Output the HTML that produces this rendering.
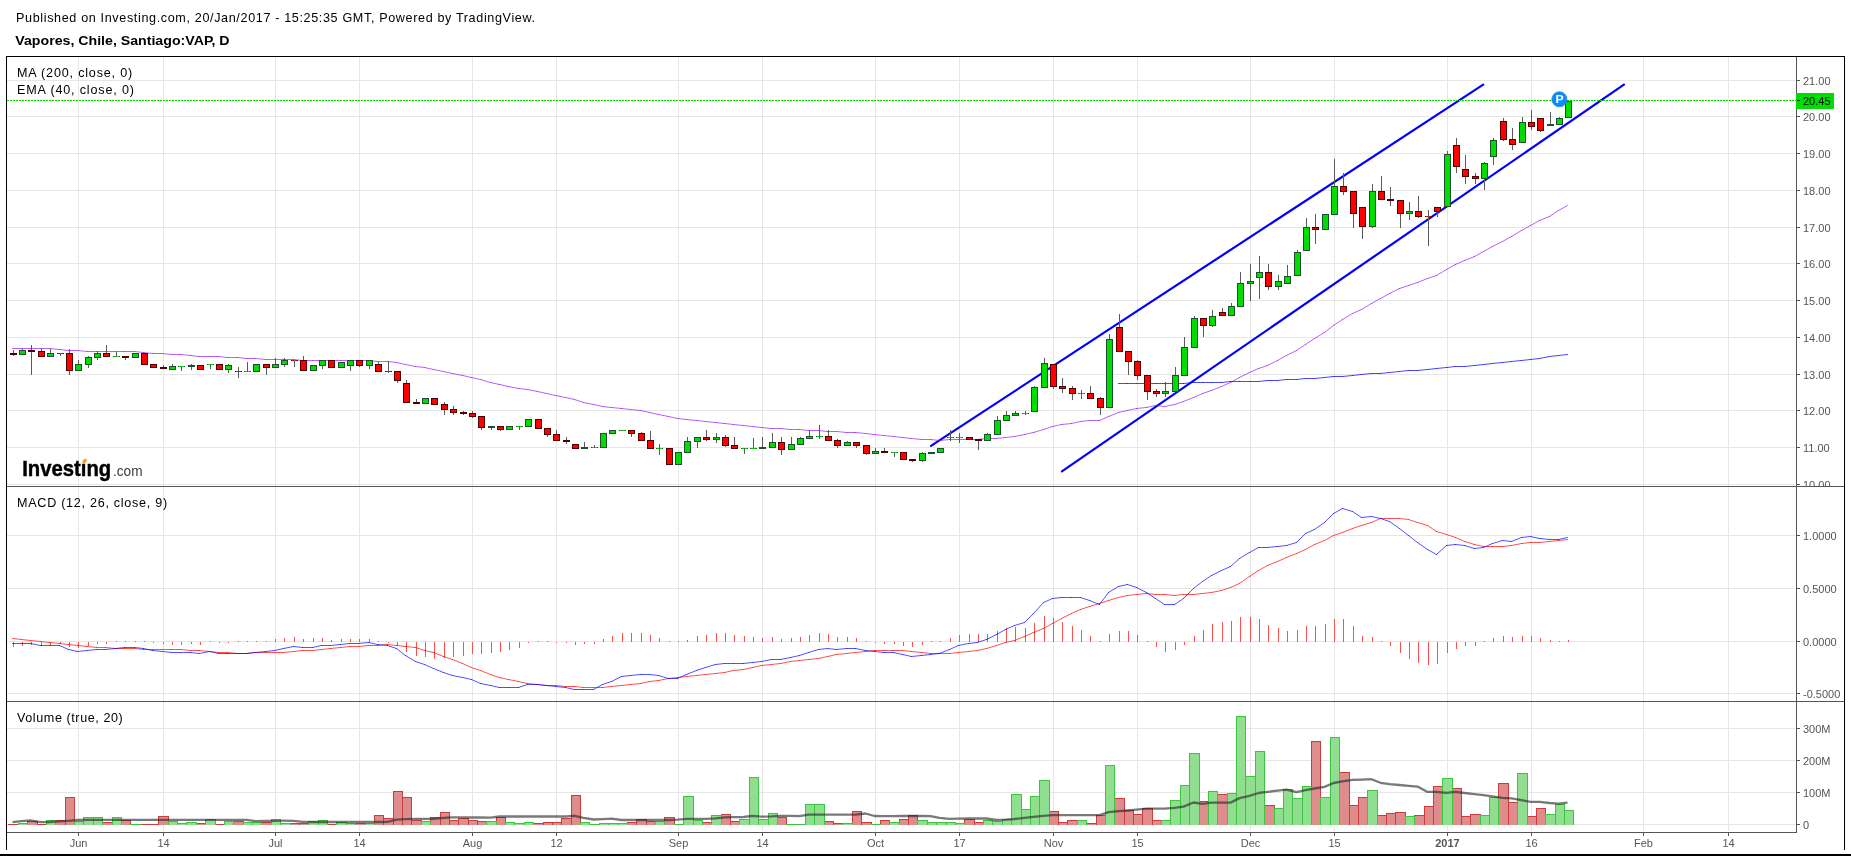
<!DOCTYPE html>
<html><head><meta charset="utf-8"><title>Vapores, Chile, Santiago:VAP, D</title>
<style>html,body{margin:0;padding:0;background:#fff;width:1851px;height:856px;overflow:hidden}body{position:relative}</style>
</head><body>
<svg width="1851" height="856" viewBox="0 0 1851 856" style="position:absolute;left:0;top:0;will-change:transform">
<g shape-rendering="crispEdges" fill="#e6e6e6">
<rect x="78" y="57" width="1" height="774"/>
<rect x="163" y="57" width="1" height="774"/>
<rect x="275" y="57" width="1" height="774"/>
<rect x="359" y="57" width="1" height="774"/>
<rect x="472" y="57" width="1" height="774"/>
<rect x="556" y="57" width="1" height="774"/>
<rect x="678" y="57" width="1" height="774"/>
<rect x="762" y="57" width="1" height="774"/>
<rect x="875" y="57" width="1" height="774"/>
<rect x="959" y="57" width="1" height="774"/>
<rect x="1053" y="57" width="1" height="774"/>
<rect x="1137" y="57" width="1" height="774"/>
<rect x="1250" y="57" width="1" height="774"/>
<rect x="1334" y="57" width="1" height="774"/>
<rect x="1447" y="57" width="1" height="774"/>
<rect x="1531" y="57" width="1" height="774"/>
<rect x="1643" y="57" width="1" height="774"/>
<rect x="1728" y="57" width="1" height="774"/>
<rect x="7" y="484" width="1788" height="1"/>
<rect x="7" y="447" width="1788" height="1"/>
<rect x="7" y="410" width="1788" height="1"/>
<rect x="7" y="374" width="1788" height="1"/>
<rect x="7" y="337" width="1788" height="1"/>
<rect x="7" y="300" width="1788" height="1"/>
<rect x="7" y="263" width="1788" height="1"/>
<rect x="7" y="227" width="1788" height="1"/>
<rect x="7" y="190" width="1788" height="1"/>
<rect x="7" y="153" width="1788" height="1"/>
<rect x="7" y="116" width="1788" height="1"/>
<rect x="7" y="80" width="1788" height="1"/>
<rect x="7" y="535" width="1788" height="1"/>
<rect x="7" y="588" width="1788" height="1"/>
<rect x="7" y="641" width="1788" height="1"/>
<rect x="7" y="693" width="1788" height="1"/>
<rect x="7" y="728" width="1788" height="1"/>
<rect x="7" y="760" width="1788" height="1"/>
<rect x="7" y="792" width="1788" height="1"/>
<rect x="7" y="824" width="1788" height="1"/>
</g>
<defs><clipPath id="cm"><rect x="7" y="57" width="1789" height="429"/></clipPath><clipPath id="cd"><rect x="7" y="487" width="1789" height="214"/></clipPath><clipPath id="cv"><rect x="7" y="702" width="1789" height="130"/></clipPath></defs>
<g clip-path="url(#cv)" shape-rendering="crispEdges">
<rect x="8" y="824" width="11" height="1" fill="#cc3c3c"/>
<rect x="9" y="825" width="9" height="0" fill="#de8c8c"/>
<rect x="27" y="821" width="11" height="4" fill="#cc3c3c"/>
<rect x="28" y="822" width="9" height="3" fill="#de8c8c"/>
<rect x="37" y="824" width="10" height="1" fill="#cc3c3c"/>
<rect x="38" y="825" width="8" height="0" fill="#de8c8c"/>
<rect x="55" y="820" width="11" height="5" fill="#cc3c3c"/>
<rect x="56" y="821" width="9" height="4" fill="#de8c8c"/>
<rect x="65" y="797" width="10" height="28" fill="#cc3c3c"/>
<rect x="66" y="798" width="8" height="27" fill="#de8c8c"/>
<rect x="102" y="822" width="11" height="3" fill="#cc3c3c"/>
<rect x="103" y="823" width="9" height="2" fill="#de8c8c"/>
<rect x="121" y="820" width="10" height="5" fill="#cc3c3c"/>
<rect x="122" y="821" width="8" height="4" fill="#de8c8c"/>
<rect x="140" y="824" width="10" height="1" fill="#cc3c3c"/>
<rect x="141" y="825" width="8" height="0" fill="#de8c8c"/>
<rect x="149" y="824" width="10" height="1" fill="#cc3c3c"/>
<rect x="150" y="825" width="8" height="0" fill="#de8c8c"/>
<rect x="158" y="816" width="11" height="9" fill="#cc3c3c"/>
<rect x="159" y="817" width="9" height="8" fill="#de8c8c"/>
<rect x="196" y="823" width="10" height="2" fill="#cc3c3c"/>
<rect x="197" y="824" width="8" height="1" fill="#de8c8c"/>
<rect x="215" y="824" width="10" height="1" fill="#cc3c3c"/>
<rect x="216" y="825" width="8" height="0" fill="#de8c8c"/>
<rect x="233" y="821" width="11" height="4" fill="#cc3c3c"/>
<rect x="234" y="822" width="9" height="3" fill="#de8c8c"/>
<rect x="261" y="822" width="11" height="3" fill="#cc3c3c"/>
<rect x="262" y="823" width="9" height="2" fill="#de8c8c"/>
<rect x="290" y="823" width="10" height="2" fill="#cc3c3c"/>
<rect x="291" y="824" width="8" height="1" fill="#de8c8c"/>
<rect x="299" y="823" width="10" height="2" fill="#cc3c3c"/>
<rect x="300" y="824" width="8" height="1" fill="#de8c8c"/>
<rect x="327" y="824" width="10" height="1" fill="#cc3c3c"/>
<rect x="328" y="825" width="8" height="0" fill="#de8c8c"/>
<rect x="355" y="823" width="11" height="2" fill="#cc3c3c"/>
<rect x="356" y="824" width="9" height="1" fill="#de8c8c"/>
<rect x="374" y="815" width="10" height="10" fill="#cc3c3c"/>
<rect x="375" y="816" width="8" height="9" fill="#de8c8c"/>
<rect x="383" y="818" width="11" height="7" fill="#cc3c3c"/>
<rect x="384" y="819" width="9" height="6" fill="#de8c8c"/>
<rect x="393" y="791" width="10" height="34" fill="#cc3c3c"/>
<rect x="394" y="792" width="8" height="33" fill="#de8c8c"/>
<rect x="402" y="797" width="10" height="28" fill="#cc3c3c"/>
<rect x="403" y="798" width="8" height="27" fill="#de8c8c"/>
<rect x="411" y="820" width="11" height="5" fill="#cc3c3c"/>
<rect x="412" y="821" width="9" height="4" fill="#de8c8c"/>
<rect x="430" y="817" width="11" height="8" fill="#cc3c3c"/>
<rect x="431" y="818" width="9" height="7" fill="#de8c8c"/>
<rect x="440" y="812" width="10" height="13" fill="#cc3c3c"/>
<rect x="441" y="813" width="8" height="12" fill="#de8c8c"/>
<rect x="449" y="820" width="10" height="5" fill="#cc3c3c"/>
<rect x="450" y="821" width="8" height="4" fill="#de8c8c"/>
<rect x="458" y="818" width="11" height="7" fill="#cc3c3c"/>
<rect x="459" y="819" width="9" height="6" fill="#de8c8c"/>
<rect x="468" y="820" width="10" height="5" fill="#cc3c3c"/>
<rect x="469" y="821" width="8" height="4" fill="#de8c8c"/>
<rect x="477" y="821" width="10" height="4" fill="#cc3c3c"/>
<rect x="478" y="822" width="8" height="3" fill="#de8c8c"/>
<rect x="496" y="817" width="10" height="8" fill="#cc3c3c"/>
<rect x="497" y="818" width="8" height="7" fill="#de8c8c"/>
<rect x="533" y="823" width="11" height="2" fill="#cc3c3c"/>
<rect x="534" y="824" width="9" height="1" fill="#de8c8c"/>
<rect x="543" y="822" width="10" height="3" fill="#cc3c3c"/>
<rect x="544" y="823" width="8" height="2" fill="#de8c8c"/>
<rect x="552" y="822" width="10" height="3" fill="#cc3c3c"/>
<rect x="553" y="823" width="8" height="2" fill="#de8c8c"/>
<rect x="561" y="818" width="11" height="7" fill="#cc3c3c"/>
<rect x="562" y="819" width="9" height="6" fill="#de8c8c"/>
<rect x="571" y="795" width="10" height="30" fill="#cc3c3c"/>
<rect x="572" y="796" width="8" height="29" fill="#de8c8c"/>
<rect x="627" y="822" width="10" height="3" fill="#cc3c3c"/>
<rect x="628" y="823" width="8" height="2" fill="#de8c8c"/>
<rect x="636" y="819" width="11" height="6" fill="#cc3c3c"/>
<rect x="637" y="820" width="9" height="5" fill="#de8c8c"/>
<rect x="646" y="821" width="10" height="4" fill="#cc3c3c"/>
<rect x="647" y="822" width="8" height="3" fill="#de8c8c"/>
<rect x="664" y="817" width="11" height="8" fill="#cc3c3c"/>
<rect x="665" y="818" width="9" height="7" fill="#de8c8c"/>
<rect x="702" y="822" width="10" height="3" fill="#cc3c3c"/>
<rect x="703" y="823" width="8" height="2" fill="#de8c8c"/>
<rect x="721" y="814" width="10" height="11" fill="#cc3c3c"/>
<rect x="722" y="815" width="8" height="10" fill="#de8c8c"/>
<rect x="730" y="821" width="10" height="4" fill="#cc3c3c"/>
<rect x="731" y="822" width="8" height="3" fill="#de8c8c"/>
<rect x="777" y="817" width="10" height="8" fill="#cc3c3c"/>
<rect x="778" y="818" width="8" height="7" fill="#de8c8c"/>
<rect x="824" y="821" width="10" height="4" fill="#cc3c3c"/>
<rect x="825" y="822" width="8" height="3" fill="#de8c8c"/>
<rect x="833" y="823" width="10" height="2" fill="#cc3c3c"/>
<rect x="834" y="824" width="8" height="1" fill="#de8c8c"/>
<rect x="852" y="811" width="10" height="14" fill="#cc3c3c"/>
<rect x="853" y="812" width="8" height="13" fill="#de8c8c"/>
<rect x="861" y="822" width="11" height="3" fill="#cc3c3c"/>
<rect x="862" y="823" width="9" height="2" fill="#de8c8c"/>
<rect x="880" y="820" width="10" height="5" fill="#cc3c3c"/>
<rect x="881" y="821" width="8" height="4" fill="#de8c8c"/>
<rect x="899" y="819" width="10" height="6" fill="#cc3c3c"/>
<rect x="900" y="820" width="8" height="5" fill="#de8c8c"/>
<rect x="908" y="815" width="10" height="10" fill="#cc3c3c"/>
<rect x="909" y="816" width="8" height="9" fill="#de8c8c"/>
<rect x="964" y="819" width="11" height="6" fill="#cc3c3c"/>
<rect x="965" y="820" width="9" height="5" fill="#de8c8c"/>
<rect x="974" y="822" width="10" height="3" fill="#cc3c3c"/>
<rect x="975" y="823" width="8" height="2" fill="#de8c8c"/>
<rect x="1049" y="811" width="10" height="14" fill="#cc3c3c"/>
<rect x="1050" y="812" width="8" height="13" fill="#de8c8c"/>
<rect x="1058" y="822" width="10" height="3" fill="#cc3c3c"/>
<rect x="1059" y="823" width="8" height="2" fill="#de8c8c"/>
<rect x="1067" y="820" width="11" height="5" fill="#cc3c3c"/>
<rect x="1068" y="821" width="9" height="4" fill="#de8c8c"/>
<rect x="1086" y="823" width="11" height="2" fill="#cc3c3c"/>
<rect x="1087" y="824" width="9" height="1" fill="#de8c8c"/>
<rect x="1096" y="815" width="10" height="10" fill="#cc3c3c"/>
<rect x="1097" y="816" width="8" height="9" fill="#de8c8c"/>
<rect x="1114" y="798" width="11" height="27" fill="#cc3c3c"/>
<rect x="1115" y="799" width="9" height="26" fill="#de8c8c"/>
<rect x="1124" y="810" width="10" height="15" fill="#cc3c3c"/>
<rect x="1125" y="811" width="8" height="14" fill="#de8c8c"/>
<rect x="1133" y="814" width="10" height="11" fill="#cc3c3c"/>
<rect x="1134" y="815" width="8" height="10" fill="#de8c8c"/>
<rect x="1142" y="808" width="11" height="17" fill="#cc3c3c"/>
<rect x="1143" y="809" width="9" height="16" fill="#de8c8c"/>
<rect x="1152" y="820" width="10" height="5" fill="#cc3c3c"/>
<rect x="1153" y="821" width="8" height="4" fill="#de8c8c"/>
<rect x="1199" y="801" width="10" height="24" fill="#cc3c3c"/>
<rect x="1200" y="802" width="8" height="23" fill="#de8c8c"/>
<rect x="1217" y="794" width="11" height="31" fill="#cc3c3c"/>
<rect x="1218" y="795" width="9" height="30" fill="#de8c8c"/>
<rect x="1264" y="805" width="11" height="20" fill="#cc3c3c"/>
<rect x="1265" y="806" width="9" height="19" fill="#de8c8c"/>
<rect x="1311" y="741" width="10" height="84" fill="#cc3c3c"/>
<rect x="1312" y="742" width="8" height="83" fill="#de8c8c"/>
<rect x="1339" y="772" width="11" height="53" fill="#cc3c3c"/>
<rect x="1340" y="773" width="9" height="52" fill="#de8c8c"/>
<rect x="1349" y="805" width="10" height="20" fill="#cc3c3c"/>
<rect x="1350" y="806" width="8" height="19" fill="#de8c8c"/>
<rect x="1358" y="797" width="10" height="28" fill="#cc3c3c"/>
<rect x="1359" y="798" width="8" height="27" fill="#de8c8c"/>
<rect x="1377" y="815" width="10" height="10" fill="#cc3c3c"/>
<rect x="1378" y="816" width="8" height="9" fill="#de8c8c"/>
<rect x="1386" y="813" width="10" height="12" fill="#cc3c3c"/>
<rect x="1387" y="814" width="8" height="11" fill="#de8c8c"/>
<rect x="1395" y="812" width="11" height="13" fill="#cc3c3c"/>
<rect x="1396" y="813" width="9" height="12" fill="#de8c8c"/>
<rect x="1414" y="815" width="11" height="10" fill="#cc3c3c"/>
<rect x="1415" y="816" width="9" height="9" fill="#de8c8c"/>
<rect x="1424" y="806" width="10" height="19" fill="#cc3c3c"/>
<rect x="1425" y="807" width="8" height="18" fill="#de8c8c"/>
<rect x="1433" y="786" width="10" height="39" fill="#cc3c3c"/>
<rect x="1434" y="787" width="8" height="38" fill="#de8c8c"/>
<rect x="1452" y="788" width="10" height="37" fill="#cc3c3c"/>
<rect x="1453" y="789" width="8" height="36" fill="#de8c8c"/>
<rect x="1461" y="816" width="10" height="9" fill="#cc3c3c"/>
<rect x="1462" y="817" width="8" height="8" fill="#de8c8c"/>
<rect x="1470" y="814" width="11" height="11" fill="#cc3c3c"/>
<rect x="1471" y="815" width="9" height="10" fill="#de8c8c"/>
<rect x="1498" y="783" width="11" height="42" fill="#cc3c3c"/>
<rect x="1499" y="784" width="9" height="41" fill="#de8c8c"/>
<rect x="1508" y="802" width="10" height="23" fill="#cc3c3c"/>
<rect x="1509" y="803" width="8" height="22" fill="#de8c8c"/>
<rect x="1527" y="816" width="10" height="9" fill="#cc3c3c"/>
<rect x="1528" y="817" width="8" height="8" fill="#de8c8c"/>
<rect x="1536" y="808" width="10" height="17" fill="#cc3c3c"/>
<rect x="1537" y="809" width="8" height="16" fill="#de8c8c"/>
<rect x="18" y="823" width="10" height="2" fill="#3ec43e"/>
<rect x="19" y="824" width="8" height="1" fill="#90de90"/>
<rect x="46" y="820" width="10" height="5" fill="#3ec43e"/>
<rect x="47" y="821" width="8" height="4" fill="#90de90"/>
<rect x="74" y="821" width="10" height="4" fill="#3ec43e"/>
<rect x="75" y="822" width="8" height="3" fill="#90de90"/>
<rect x="83" y="817" width="11" height="8" fill="#3ec43e"/>
<rect x="84" y="818" width="9" height="7" fill="#90de90"/>
<rect x="93" y="817" width="10" height="8" fill="#3ec43e"/>
<rect x="94" y="818" width="8" height="7" fill="#90de90"/>
<rect x="112" y="817" width="10" height="8" fill="#3ec43e"/>
<rect x="113" y="818" width="8" height="7" fill="#90de90"/>
<rect x="130" y="824" width="11" height="1" fill="#3ec43e"/>
<rect x="131" y="825" width="9" height="0" fill="#90de90"/>
<rect x="168" y="821" width="10" height="4" fill="#3ec43e"/>
<rect x="169" y="822" width="8" height="3" fill="#90de90"/>
<rect x="177" y="823" width="10" height="2" fill="#3ec43e"/>
<rect x="178" y="824" width="8" height="1" fill="#90de90"/>
<rect x="186" y="822" width="11" height="3" fill="#3ec43e"/>
<rect x="187" y="823" width="9" height="2" fill="#90de90"/>
<rect x="205" y="819" width="11" height="6" fill="#3ec43e"/>
<rect x="206" y="820" width="9" height="5" fill="#90de90"/>
<rect x="224" y="821" width="10" height="4" fill="#3ec43e"/>
<rect x="225" y="822" width="8" height="3" fill="#90de90"/>
<rect x="243" y="822" width="10" height="3" fill="#3ec43e"/>
<rect x="244" y="823" width="8" height="2" fill="#90de90"/>
<rect x="252" y="822" width="10" height="3" fill="#3ec43e"/>
<rect x="253" y="823" width="8" height="2" fill="#90de90"/>
<rect x="271" y="819" width="10" height="6" fill="#3ec43e"/>
<rect x="272" y="820" width="8" height="5" fill="#90de90"/>
<rect x="280" y="823" width="11" height="2" fill="#3ec43e"/>
<rect x="281" y="824" width="9" height="1" fill="#90de90"/>
<rect x="308" y="821" width="11" height="4" fill="#3ec43e"/>
<rect x="309" y="822" width="9" height="3" fill="#90de90"/>
<rect x="318" y="820" width="10" height="5" fill="#3ec43e"/>
<rect x="319" y="821" width="8" height="4" fill="#90de90"/>
<rect x="336" y="822" width="11" height="3" fill="#3ec43e"/>
<rect x="337" y="823" width="9" height="2" fill="#90de90"/>
<rect x="346" y="823" width="10" height="2" fill="#3ec43e"/>
<rect x="347" y="824" width="8" height="1" fill="#90de90"/>
<rect x="365" y="823" width="10" height="2" fill="#3ec43e"/>
<rect x="366" y="824" width="8" height="1" fill="#90de90"/>
<rect x="421" y="821" width="10" height="4" fill="#3ec43e"/>
<rect x="422" y="822" width="8" height="3" fill="#90de90"/>
<rect x="486" y="821" width="11" height="4" fill="#3ec43e"/>
<rect x="487" y="822" width="9" height="3" fill="#90de90"/>
<rect x="505" y="822" width="10" height="3" fill="#3ec43e"/>
<rect x="506" y="823" width="8" height="2" fill="#90de90"/>
<rect x="514" y="823" width="11" height="2" fill="#3ec43e"/>
<rect x="515" y="824" width="9" height="1" fill="#90de90"/>
<rect x="524" y="822" width="10" height="3" fill="#3ec43e"/>
<rect x="525" y="823" width="8" height="2" fill="#90de90"/>
<rect x="580" y="822" width="10" height="3" fill="#3ec43e"/>
<rect x="581" y="823" width="8" height="2" fill="#90de90"/>
<rect x="589" y="824" width="11" height="1" fill="#3ec43e"/>
<rect x="590" y="825" width="9" height="0" fill="#90de90"/>
<rect x="599" y="823" width="10" height="2" fill="#3ec43e"/>
<rect x="600" y="824" width="8" height="1" fill="#90de90"/>
<rect x="608" y="823" width="11" height="2" fill="#3ec43e"/>
<rect x="609" y="824" width="9" height="1" fill="#90de90"/>
<rect x="618" y="823" width="10" height="2" fill="#3ec43e"/>
<rect x="619" y="824" width="8" height="1" fill="#90de90"/>
<rect x="655" y="821" width="10" height="4" fill="#3ec43e"/>
<rect x="656" y="822" width="8" height="3" fill="#90de90"/>
<rect x="674" y="824" width="10" height="1" fill="#3ec43e"/>
<rect x="675" y="825" width="8" height="0" fill="#90de90"/>
<rect x="683" y="796" width="11" height="29" fill="#3ec43e"/>
<rect x="684" y="797" width="9" height="28" fill="#90de90"/>
<rect x="693" y="820" width="10" height="5" fill="#3ec43e"/>
<rect x="694" y="821" width="8" height="4" fill="#90de90"/>
<rect x="711" y="815" width="11" height="10" fill="#3ec43e"/>
<rect x="712" y="816" width="9" height="9" fill="#90de90"/>
<rect x="739" y="819" width="11" height="6" fill="#3ec43e"/>
<rect x="740" y="820" width="9" height="5" fill="#90de90"/>
<rect x="749" y="777" width="10" height="48" fill="#3ec43e"/>
<rect x="750" y="778" width="8" height="47" fill="#90de90"/>
<rect x="758" y="819" width="11" height="6" fill="#3ec43e"/>
<rect x="759" y="820" width="9" height="5" fill="#90de90"/>
<rect x="768" y="813" width="10" height="12" fill="#3ec43e"/>
<rect x="769" y="814" width="8" height="11" fill="#90de90"/>
<rect x="786" y="824" width="11" height="1" fill="#3ec43e"/>
<rect x="787" y="825" width="9" height="0" fill="#90de90"/>
<rect x="796" y="824" width="10" height="1" fill="#3ec43e"/>
<rect x="797" y="825" width="8" height="0" fill="#90de90"/>
<rect x="805" y="804" width="10" height="21" fill="#3ec43e"/>
<rect x="806" y="805" width="8" height="20" fill="#90de90"/>
<rect x="814" y="804" width="11" height="21" fill="#3ec43e"/>
<rect x="815" y="805" width="9" height="20" fill="#90de90"/>
<rect x="842" y="823" width="11" height="2" fill="#3ec43e"/>
<rect x="843" y="824" width="9" height="1" fill="#90de90"/>
<rect x="871" y="824" width="10" height="1" fill="#3ec43e"/>
<rect x="872" y="825" width="8" height="0" fill="#90de90"/>
<rect x="889" y="822" width="11" height="3" fill="#3ec43e"/>
<rect x="890" y="823" width="9" height="2" fill="#90de90"/>
<rect x="917" y="820" width="11" height="5" fill="#3ec43e"/>
<rect x="918" y="821" width="9" height="4" fill="#90de90"/>
<rect x="927" y="822" width="10" height="3" fill="#3ec43e"/>
<rect x="928" y="823" width="8" height="2" fill="#90de90"/>
<rect x="936" y="822" width="11" height="3" fill="#3ec43e"/>
<rect x="937" y="823" width="9" height="2" fill="#90de90"/>
<rect x="946" y="822" width="10" height="3" fill="#3ec43e"/>
<rect x="947" y="823" width="8" height="2" fill="#90de90"/>
<rect x="955" y="823" width="10" height="2" fill="#3ec43e"/>
<rect x="956" y="824" width="8" height="1" fill="#90de90"/>
<rect x="983" y="820" width="10" height="5" fill="#3ec43e"/>
<rect x="984" y="821" width="8" height="4" fill="#90de90"/>
<rect x="992" y="821" width="11" height="4" fill="#3ec43e"/>
<rect x="993" y="822" width="9" height="3" fill="#90de90"/>
<rect x="1002" y="819" width="10" height="6" fill="#3ec43e"/>
<rect x="1003" y="820" width="8" height="5" fill="#90de90"/>
<rect x="1011" y="794" width="11" height="31" fill="#3ec43e"/>
<rect x="1012" y="795" width="9" height="30" fill="#90de90"/>
<rect x="1021" y="809" width="10" height="16" fill="#3ec43e"/>
<rect x="1022" y="810" width="8" height="15" fill="#90de90"/>
<rect x="1030" y="796" width="10" height="29" fill="#3ec43e"/>
<rect x="1031" y="797" width="8" height="28" fill="#90de90"/>
<rect x="1039" y="780" width="11" height="45" fill="#3ec43e"/>
<rect x="1040" y="781" width="9" height="44" fill="#90de90"/>
<rect x="1077" y="820" width="10" height="5" fill="#3ec43e"/>
<rect x="1078" y="821" width="8" height="4" fill="#90de90"/>
<rect x="1105" y="765" width="10" height="60" fill="#3ec43e"/>
<rect x="1106" y="766" width="8" height="59" fill="#90de90"/>
<rect x="1161" y="820" width="10" height="5" fill="#3ec43e"/>
<rect x="1162" y="821" width="8" height="4" fill="#90de90"/>
<rect x="1170" y="800" width="11" height="25" fill="#3ec43e"/>
<rect x="1171" y="801" width="9" height="24" fill="#90de90"/>
<rect x="1180" y="785" width="10" height="40" fill="#3ec43e"/>
<rect x="1181" y="786" width="8" height="39" fill="#90de90"/>
<rect x="1189" y="753" width="11" height="72" fill="#3ec43e"/>
<rect x="1190" y="754" width="9" height="71" fill="#90de90"/>
<rect x="1208" y="791" width="10" height="34" fill="#3ec43e"/>
<rect x="1209" y="792" width="8" height="33" fill="#90de90"/>
<rect x="1227" y="793" width="10" height="32" fill="#3ec43e"/>
<rect x="1228" y="794" width="8" height="31" fill="#90de90"/>
<rect x="1236" y="716" width="10" height="109" fill="#3ec43e"/>
<rect x="1237" y="717" width="8" height="108" fill="#90de90"/>
<rect x="1245" y="776" width="11" height="49" fill="#3ec43e"/>
<rect x="1246" y="777" width="9" height="48" fill="#90de90"/>
<rect x="1255" y="751" width="10" height="74" fill="#3ec43e"/>
<rect x="1256" y="752" width="8" height="73" fill="#90de90"/>
<rect x="1274" y="808" width="10" height="17" fill="#3ec43e"/>
<rect x="1275" y="809" width="8" height="16" fill="#90de90"/>
<rect x="1283" y="789" width="10" height="36" fill="#3ec43e"/>
<rect x="1284" y="790" width="8" height="35" fill="#90de90"/>
<rect x="1292" y="798" width="11" height="27" fill="#3ec43e"/>
<rect x="1293" y="799" width="9" height="26" fill="#90de90"/>
<rect x="1302" y="786" width="10" height="39" fill="#3ec43e"/>
<rect x="1303" y="787" width="8" height="38" fill="#90de90"/>
<rect x="1320" y="797" width="11" height="28" fill="#3ec43e"/>
<rect x="1321" y="798" width="9" height="27" fill="#90de90"/>
<rect x="1330" y="737" width="10" height="88" fill="#3ec43e"/>
<rect x="1331" y="738" width="8" height="87" fill="#90de90"/>
<rect x="1367" y="790" width="11" height="35" fill="#3ec43e"/>
<rect x="1368" y="791" width="9" height="34" fill="#90de90"/>
<rect x="1405" y="816" width="10" height="9" fill="#3ec43e"/>
<rect x="1406" y="817" width="8" height="8" fill="#90de90"/>
<rect x="1442" y="778" width="11" height="47" fill="#3ec43e"/>
<rect x="1443" y="779" width="9" height="46" fill="#90de90"/>
<rect x="1480" y="815" width="10" height="10" fill="#3ec43e"/>
<rect x="1481" y="816" width="8" height="9" fill="#90de90"/>
<rect x="1489" y="797" width="10" height="28" fill="#3ec43e"/>
<rect x="1490" y="798" width="8" height="27" fill="#90de90"/>
<rect x="1517" y="773" width="11" height="52" fill="#3ec43e"/>
<rect x="1518" y="774" width="9" height="51" fill="#90de90"/>
<rect x="1545" y="814" width="11" height="11" fill="#3ec43e"/>
<rect x="1546" y="815" width="9" height="10" fill="#90de90"/>
<rect x="1555" y="804" width="10" height="21" fill="#3ec43e"/>
<rect x="1556" y="805" width="8" height="20" fill="#90de90"/>
<rect x="1564" y="810" width="10" height="15" fill="#3ec43e"/>
<rect x="1565" y="811" width="8" height="14" fill="#90de90"/>
</g>
<polyline clip-path="url(#cv)" points="12.5,822.1 21.5,821.1 30.5,820.3 40.5,822.2 49.5,822.0 59.5,821.4 68.5,820.8 77.5,820.0 87.5,819.8 96.5,819.8 105.5,819.8 115.5,819.8 124.5,819.8 134.5,819.8 143.5,819.8 152.5,819.8 162.5,819.8 171.5,819.8 180.5,819.8 190.5,819.8 199.5,819.8 209.5,819.8 218.5,819.8 227.5,819.8 237.5,819.8 246.5,819.8 255.5,821.1 265.5,821.0 274.5,820.8 283.5,820.7 293.5,820.8 302.5,821.9 312.5,822.0 321.5,822.0 330.5,822.0 340.5,822.0 349.5,822.0 358.5,822.0 368.5,822.0 377.5,822.0 387.5,821.9 396.5,819.7 405.5,819.2 415.5,818.9 424.5,818.9 433.5,818.9 443.5,817.9 452.5,817.3 462.5,817.4 471.5,817.5 480.5,817.5 490.5,817.6 499.5,816.5 508.5,816.5 518.5,816.5 527.5,816.5 537.5,816.5 546.5,816.5 555.5,816.5 565.5,816.5 574.5,815.9 583.5,817.8 593.5,819.5 602.5,819.1 611.5,818.6 621.5,820.0 630.5,820.0 640.5,820.0 649.5,820.0 658.5,820.0 668.5,820.0 677.5,819.7 686.5,818.9 696.5,818.9 705.5,818.9 715.5,818.4 724.5,817.4 733.5,817.2 743.5,817.0 752.5,815.9 761.5,816.7 771.5,816.4 780.5,815.9 790.5,815.9 799.5,816.2 808.5,814.6 818.5,814.6 827.5,814.6 836.5,814.6 846.5,814.6 855.5,814.6 865.5,813.5 874.5,816.0 883.5,816.2 893.5,816.1 902.5,816.0 911.5,816.0 921.5,815.9 930.5,816.2 939.5,817.9 949.5,818.9 958.5,818.7 968.5,818.5 977.5,818.4 986.5,818.5 996.5,820.0 1005.5,819.7 1014.5,819.0 1024.5,817.8 1033.5,816.9 1043.5,815.8 1052.5,815.2 1061.5,815.2 1071.5,815.2 1080.5,815.2 1089.5,815.2 1099.5,815.1 1108.5,812.1 1118.5,811.2 1127.5,810.5 1136.5,809.6 1146.5,808.7 1155.5,808.7 1164.5,808.7 1174.5,807.8 1183.5,806.6 1193.5,802.5 1202.5,803.8 1211.5,802.7 1221.5,802.7 1230.5,802.6 1239.5,798.1 1249.5,795.8 1258.5,793.0 1267.5,791.8 1277.5,790.7 1286.5,789.6 1296.5,792.2 1305.5,790.2 1314.5,788.5 1324.5,786.9 1333.5,783.0 1342.5,781.3 1352.5,779.9 1361.5,779.6 1371.5,779.2 1380.5,782.8 1389.5,784.1 1399.5,785.0 1408.5,785.8 1417.5,786.6 1427.5,791.9 1436.5,791.9 1446.5,792.9 1455.5,791.9 1464.5,793.0 1474.5,794.2 1483.5,795.2 1492.5,796.3 1502.5,797.9 1511.5,798.3 1521.5,800.2 1530.5,801.8 1539.5,801.9 1549.5,803.0 1558.5,803.7 1567.5,802.7" fill="none" stroke="#262626" stroke-opacity="0.62" stroke-width="2.3" stroke-linejoin="round"/>
<g clip-path="url(#cd)">
<rect x="13" y="642" width="1" height="5" fill="#ff5050" shape-rendering="crispEdges"/>
<rect x="22" y="642" width="1" height="4" fill="#ff5050" shape-rendering="crispEdges"/>
<rect x="31" y="642" width="1" height="3" fill="#ff5050" shape-rendering="crispEdges"/>
<rect x="41" y="642" width="1" height="4" fill="#ff5050" shape-rendering="crispEdges"/>
<rect x="50" y="642" width="1" height="3" fill="#ff5050" shape-rendering="crispEdges"/>
<rect x="60" y="642" width="1" height="2" fill="#ff5050" shape-rendering="crispEdges"/>
<rect x="69" y="642" width="1" height="5" fill="#ff5050" shape-rendering="crispEdges"/>
<rect x="78" y="642" width="1" height="6" fill="#ff5050" shape-rendering="crispEdges"/>
<rect x="88" y="642" width="1" height="4" fill="#ff5050" shape-rendering="crispEdges"/>
<rect x="97" y="642" width="1" height="2" fill="#ff5050" shape-rendering="crispEdges"/>
<rect x="106" y="642" width="1" height="2" fill="#ff5050" shape-rendering="crispEdges"/>
<rect x="116" y="641" width="1" height="1" fill="#ff5050" shape-rendering="crispEdges"/>
<rect x="125" y="641" width="1" height="1" fill="#ff5050" shape-rendering="crispEdges"/>
<rect x="135" y="641" width="1" height="1" fill="#ff5050" shape-rendering="crispEdges"/>
<rect x="144" y="641" width="1" height="1" fill="#ff5050" shape-rendering="crispEdges"/>
<rect x="153" y="642" width="1" height="1" fill="#ff5050" shape-rendering="crispEdges"/>
<rect x="163" y="642" width="1" height="2" fill="#ff5050" shape-rendering="crispEdges"/>
<rect x="172" y="642" width="1" height="3" fill="#ff5050" shape-rendering="crispEdges"/>
<rect x="181" y="642" width="1" height="3" fill="#ff5050" shape-rendering="crispEdges"/>
<rect x="191" y="642" width="1" height="2" fill="#ff5050" shape-rendering="crispEdges"/>
<rect x="200" y="642" width="1" height="3" fill="#ff5050" shape-rendering="crispEdges"/>
<rect x="210" y="641" width="1" height="1" fill="#ff5050" shape-rendering="crispEdges"/>
<rect x="219" y="642" width="1" height="1" fill="#ff5050" shape-rendering="crispEdges"/>
<rect x="228" y="642" width="1" height="1" fill="#ff5050" shape-rendering="crispEdges"/>
<rect x="238" y="641" width="1" height="1" fill="#ff5050" shape-rendering="crispEdges"/>
<rect x="247" y="641" width="1" height="1" fill="#ff5050" shape-rendering="crispEdges"/>
<rect x="256" y="641" width="1" height="1" fill="#ff5050" shape-rendering="crispEdges"/>
<rect x="266" y="641" width="1" height="1" fill="#ff5050" shape-rendering="crispEdges"/>
<rect x="275" y="639" width="1" height="3" fill="#ff5050" shape-rendering="crispEdges"/>
<rect x="284" y="638" width="1" height="4" fill="#ff5050" shape-rendering="crispEdges"/>
<rect x="294" y="637" width="1" height="5" fill="#ff5050" shape-rendering="crispEdges"/>
<rect x="303" y="639" width="1" height="3" fill="#ff5050" shape-rendering="crispEdges"/>
<rect x="313" y="638" width="1" height="4" fill="#ff5050" shape-rendering="crispEdges"/>
<rect x="322" y="638" width="1" height="4" fill="#ff5050" shape-rendering="crispEdges"/>
<rect x="331" y="640" width="1" height="2" fill="#ff5050" shape-rendering="crispEdges"/>
<rect x="341" y="639" width="1" height="3" fill="#ff5050" shape-rendering="crispEdges"/>
<rect x="350" y="639" width="1" height="3" fill="#ff5050" shape-rendering="crispEdges"/>
<rect x="359" y="639" width="1" height="3" fill="#ff5050" shape-rendering="crispEdges"/>
<rect x="369" y="639" width="1" height="3" fill="#ff5050" shape-rendering="crispEdges"/>
<rect x="378" y="641" width="1" height="1" fill="#ff5050" shape-rendering="crispEdges"/>
<rect x="388" y="642" width="1" height="1" fill="#ff5050" shape-rendering="crispEdges"/>
<rect x="397" y="642" width="1" height="4" fill="#ff5050" shape-rendering="crispEdges"/>
<rect x="406" y="642" width="1" height="10" fill="#ff5050" shape-rendering="crispEdges"/>
<rect x="416" y="642" width="1" height="14" fill="#ff5050" shape-rendering="crispEdges"/>
<rect x="425" y="642" width="1" height="15" fill="#ff5050" shape-rendering="crispEdges"/>
<rect x="434" y="642" width="1" height="17" fill="#ff5050" shape-rendering="crispEdges"/>
<rect x="444" y="642" width="1" height="16" fill="#ff5050" shape-rendering="crispEdges"/>
<rect x="453" y="642" width="1" height="15" fill="#ff5050" shape-rendering="crispEdges"/>
<rect x="463" y="642" width="1" height="14" fill="#ff5050" shape-rendering="crispEdges"/>
<rect x="472" y="642" width="1" height="12" fill="#ff5050" shape-rendering="crispEdges"/>
<rect x="481" y="642" width="1" height="12" fill="#ff5050" shape-rendering="crispEdges"/>
<rect x="491" y="642" width="1" height="11" fill="#ff5050" shape-rendering="crispEdges"/>
<rect x="500" y="642" width="1" height="10" fill="#ff5050" shape-rendering="crispEdges"/>
<rect x="509" y="642" width="1" height="8" fill="#ff5050" shape-rendering="crispEdges"/>
<rect x="519" y="642" width="1" height="6" fill="#ff5050" shape-rendering="crispEdges"/>
<rect x="528" y="642" width="1" height="1" fill="#ff5050" shape-rendering="crispEdges"/>
<rect x="538" y="641" width="1" height="1" fill="#ff5050" shape-rendering="crispEdges"/>
<rect x="547" y="641" width="1" height="1" fill="#ff5050" shape-rendering="crispEdges"/>
<rect x="556" y="642" width="1" height="1" fill="#ff5050" shape-rendering="crispEdges"/>
<rect x="566" y="642" width="1" height="1" fill="#ff5050" shape-rendering="crispEdges"/>
<rect x="575" y="642" width="1" height="3" fill="#ff5050" shape-rendering="crispEdges"/>
<rect x="584" y="642" width="1" height="2" fill="#ff5050" shape-rendering="crispEdges"/>
<rect x="594" y="642" width="1" height="2" fill="#ff5050" shape-rendering="crispEdges"/>
<rect x="603" y="639" width="1" height="3" fill="#ff5050" shape-rendering="crispEdges"/>
<rect x="612" y="636" width="1" height="6" fill="#ff5050" shape-rendering="crispEdges"/>
<rect x="622" y="633" width="1" height="9" fill="#ff5050" shape-rendering="crispEdges"/>
<rect x="631" y="633" width="1" height="9" fill="#ff5050" shape-rendering="crispEdges"/>
<rect x="641" y="633" width="1" height="9" fill="#ff5050" shape-rendering="crispEdges"/>
<rect x="650" y="635" width="1" height="7" fill="#ff5050" shape-rendering="crispEdges"/>
<rect x="659" y="638" width="1" height="4" fill="#ff5050" shape-rendering="crispEdges"/>
<rect x="669" y="641" width="1" height="1" fill="#ff5050" shape-rendering="crispEdges"/>
<rect x="678" y="641" width="1" height="1" fill="#ff5050" shape-rendering="crispEdges"/>
<rect x="687" y="640" width="1" height="2" fill="#ff5050" shape-rendering="crispEdges"/>
<rect x="697" y="636" width="1" height="6" fill="#ff5050" shape-rendering="crispEdges"/>
<rect x="706" y="635" width="1" height="7" fill="#ff5050" shape-rendering="crispEdges"/>
<rect x="716" y="633" width="1" height="9" fill="#ff5050" shape-rendering="crispEdges"/>
<rect x="725" y="633" width="1" height="9" fill="#ff5050" shape-rendering="crispEdges"/>
<rect x="734" y="635" width="1" height="7" fill="#ff5050" shape-rendering="crispEdges"/>
<rect x="744" y="636" width="1" height="6" fill="#ff5050" shape-rendering="crispEdges"/>
<rect x="753" y="637" width="1" height="5" fill="#ff5050" shape-rendering="crispEdges"/>
<rect x="762" y="638" width="1" height="4" fill="#ff5050" shape-rendering="crispEdges"/>
<rect x="772" y="637" width="1" height="5" fill="#ff5050" shape-rendering="crispEdges"/>
<rect x="781" y="639" width="1" height="3" fill="#ff5050" shape-rendering="crispEdges"/>
<rect x="791" y="638" width="1" height="4" fill="#ff5050" shape-rendering="crispEdges"/>
<rect x="800" y="637" width="1" height="5" fill="#ff5050" shape-rendering="crispEdges"/>
<rect x="809" y="635" width="1" height="7" fill="#ff5050" shape-rendering="crispEdges"/>
<rect x="819" y="633" width="1" height="9" fill="#ff5050" shape-rendering="crispEdges"/>
<rect x="828" y="634" width="1" height="8" fill="#ff5050" shape-rendering="crispEdges"/>
<rect x="837" y="637" width="1" height="5" fill="#ff5050" shape-rendering="crispEdges"/>
<rect x="847" y="637" width="1" height="5" fill="#ff5050" shape-rendering="crispEdges"/>
<rect x="856" y="638" width="1" height="4" fill="#ff5050" shape-rendering="crispEdges"/>
<rect x="866" y="641" width="1" height="1" fill="#ff5050" shape-rendering="crispEdges"/>
<rect x="875" y="642" width="1" height="1" fill="#ff5050" shape-rendering="crispEdges"/>
<rect x="884" y="642" width="1" height="2" fill="#ff5050" shape-rendering="crispEdges"/>
<rect x="894" y="642" width="1" height="2" fill="#ff5050" shape-rendering="crispEdges"/>
<rect x="903" y="642" width="1" height="4" fill="#ff5050" shape-rendering="crispEdges"/>
<rect x="912" y="642" width="1" height="5" fill="#ff5050" shape-rendering="crispEdges"/>
<rect x="922" y="642" width="1" height="3" fill="#ff5050" shape-rendering="crispEdges"/>
<rect x="931" y="641" width="1" height="1" fill="#ff5050" shape-rendering="crispEdges"/>
<rect x="940" y="641" width="1" height="1" fill="#ff5050" shape-rendering="crispEdges"/>
<rect x="950" y="638" width="1" height="4" fill="#ff5050" shape-rendering="crispEdges"/>
<rect x="959" y="635" width="1" height="7" fill="#ff5050" shape-rendering="crispEdges"/>
<rect x="969" y="634" width="1" height="8" fill="#ff5050" shape-rendering="crispEdges"/>
<rect x="978" y="634" width="1" height="8" fill="#ff5050" shape-rendering="crispEdges"/>
<rect x="987" y="634" width="1" height="8" fill="#ff5050" shape-rendering="crispEdges"/>
<rect x="997" y="631" width="1" height="11" fill="#ff5050" shape-rendering="crispEdges"/>
<rect x="1006" y="628" width="1" height="14" fill="#ff5050" shape-rendering="crispEdges"/>
<rect x="1015" y="627" width="1" height="15" fill="#ff5050" shape-rendering="crispEdges"/>
<rect x="1025" y="628" width="1" height="14" fill="#ff5050" shape-rendering="crispEdges"/>
<rect x="1034" y="623" width="1" height="19" fill="#ff5050" shape-rendering="crispEdges"/>
<rect x="1044" y="616" width="1" height="26" fill="#ff5050" shape-rendering="crispEdges"/>
<rect x="1053" y="618" width="1" height="24" fill="#ff5050" shape-rendering="crispEdges"/>
<rect x="1062" y="622" width="1" height="20" fill="#ff5050" shape-rendering="crispEdges"/>
<rect x="1072" y="626" width="1" height="16" fill="#ff5050" shape-rendering="crispEdges"/>
<rect x="1081" y="630" width="1" height="12" fill="#ff5050" shape-rendering="crispEdges"/>
<rect x="1090" y="636" width="1" height="6" fill="#ff5050" shape-rendering="crispEdges"/>
<rect x="1100" y="641" width="1" height="1" fill="#ff5050" shape-rendering="crispEdges"/>
<rect x="1109" y="634" width="1" height="8" fill="#ff5050" shape-rendering="crispEdges"/>
<rect x="1119" y="631" width="1" height="11" fill="#ff5050" shape-rendering="crispEdges"/>
<rect x="1128" y="631" width="1" height="11" fill="#ff5050" shape-rendering="crispEdges"/>
<rect x="1137" y="635" width="1" height="7" fill="#ff5050" shape-rendering="crispEdges"/>
<rect x="1147" y="641" width="1" height="1" fill="#ff5050" shape-rendering="crispEdges"/>
<rect x="1156" y="642" width="1" height="5" fill="#ff5050" shape-rendering="crispEdges"/>
<rect x="1165" y="642" width="1" height="10" fill="#ff5050" shape-rendering="crispEdges"/>
<rect x="1175" y="642" width="1" height="8" fill="#ff5050" shape-rendering="crispEdges"/>
<rect x="1184" y="642" width="1" height="3" fill="#ff5050" shape-rendering="crispEdges"/>
<rect x="1194" y="636" width="1" height="6" fill="#ff5050" shape-rendering="crispEdges"/>
<rect x="1203" y="630" width="1" height="12" fill="#ff5050" shape-rendering="crispEdges"/>
<rect x="1212" y="624" width="1" height="18" fill="#ff5050" shape-rendering="crispEdges"/>
<rect x="1222" y="622" width="1" height="20" fill="#ff5050" shape-rendering="crispEdges"/>
<rect x="1231" y="621" width="1" height="21" fill="#ff5050" shape-rendering="crispEdges"/>
<rect x="1240" y="617" width="1" height="25" fill="#ff5050" shape-rendering="crispEdges"/>
<rect x="1250" y="617" width="1" height="25" fill="#ff5050" shape-rendering="crispEdges"/>
<rect x="1259" y="619" width="1" height="23" fill="#ff5050" shape-rendering="crispEdges"/>
<rect x="1268" y="625" width="1" height="17" fill="#ff5050" shape-rendering="crispEdges"/>
<rect x="1278" y="628" width="1" height="14" fill="#ff5050" shape-rendering="crispEdges"/>
<rect x="1287" y="631" width="1" height="11" fill="#ff5050" shape-rendering="crispEdges"/>
<rect x="1297" y="630" width="1" height="12" fill="#ff5050" shape-rendering="crispEdges"/>
<rect x="1306" y="626" width="1" height="16" fill="#ff5050" shape-rendering="crispEdges"/>
<rect x="1315" y="626" width="1" height="16" fill="#ff5050" shape-rendering="crispEdges"/>
<rect x="1325" y="624" width="1" height="18" fill="#ff5050" shape-rendering="crispEdges"/>
<rect x="1334" y="619" width="1" height="23" fill="#ff5050" shape-rendering="crispEdges"/>
<rect x="1343" y="619" width="1" height="23" fill="#ff5050" shape-rendering="crispEdges"/>
<rect x="1353" y="626" width="1" height="16" fill="#ff5050" shape-rendering="crispEdges"/>
<rect x="1362" y="636" width="1" height="6" fill="#ff5050" shape-rendering="crispEdges"/>
<rect x="1372" y="637" width="1" height="5" fill="#ff5050" shape-rendering="crispEdges"/>
<rect x="1381" y="641" width="1" height="1" fill="#ff5050" shape-rendering="crispEdges"/>
<rect x="1390" y="642" width="1" height="4" fill="#ff5050" shape-rendering="crispEdges"/>
<rect x="1400" y="642" width="1" height="11" fill="#ff5050" shape-rendering="crispEdges"/>
<rect x="1409" y="642" width="1" height="17" fill="#ff5050" shape-rendering="crispEdges"/>
<rect x="1418" y="642" width="1" height="21" fill="#ff5050" shape-rendering="crispEdges"/>
<rect x="1428" y="642" width="1" height="23" fill="#ff5050" shape-rendering="crispEdges"/>
<rect x="1437" y="642" width="1" height="22" fill="#ff5050" shape-rendering="crispEdges"/>
<rect x="1447" y="642" width="1" height="11" fill="#ff5050" shape-rendering="crispEdges"/>
<rect x="1456" y="642" width="1" height="7" fill="#ff5050" shape-rendering="crispEdges"/>
<rect x="1465" y="642" width="1" height="4" fill="#ff5050" shape-rendering="crispEdges"/>
<rect x="1475" y="642" width="1" height="4" fill="#ff5050" shape-rendering="crispEdges"/>
<rect x="1484" y="641" width="1" height="1" fill="#ff5050" shape-rendering="crispEdges"/>
<rect x="1493" y="638" width="1" height="4" fill="#ff5050" shape-rendering="crispEdges"/>
<rect x="1503" y="636" width="1" height="6" fill="#ff5050" shape-rendering="crispEdges"/>
<rect x="1512" y="637" width="1" height="5" fill="#ff5050" shape-rendering="crispEdges"/>
<rect x="1522" y="636" width="1" height="6" fill="#ff5050" shape-rendering="crispEdges"/>
<rect x="1531" y="636" width="1" height="6" fill="#ff5050" shape-rendering="crispEdges"/>
<rect x="1540" y="638" width="1" height="4" fill="#ff5050" shape-rendering="crispEdges"/>
<rect x="1550" y="640" width="1" height="2" fill="#ff5050" shape-rendering="crispEdges"/>
<rect x="1559" y="641" width="1" height="1" fill="#ff5050" shape-rendering="crispEdges"/>
<rect x="1568" y="640" width="1" height="2" fill="#ff5050" shape-rendering="crispEdges"/>
<g stroke="#ff0000" stroke-opacity="0.68" stroke-width="1" stroke-linecap="round"><line x1="12.5" y1="638.5" x2="21.5" y2="639.5"/><line x1="21.5" y1="639.5" x2="30.5" y2="640.5"/><line x1="30.5" y1="640.5" x2="40.5" y2="641.5"/><line x1="40.5" y1="641.5" x2="49.5" y2="642.5"/><line x1="49.5" y1="642.5" x2="59.5" y2="643.5"/><line x1="59.5" y1="643.5" x2="68.5" y2="644.5"/><line x1="68.5" y1="644.5" x2="77.5" y2="645.5"/><line x1="77.5" y1="645.5" x2="87.5" y2="646.5"/><line x1="87.5" y1="646.5" x2="96.5" y2="647.5"/><line x1="96.5" y1="647.5" x2="105.5" y2="647.5"/><line x1="105.5" y1="647.5" x2="115.5" y2="648.5"/><line x1="115.5" y1="648.5" x2="124.5" y2="648.5"/><line x1="124.5" y1="648.5" x2="134.5" y2="648.5"/><line x1="134.5" y1="648.5" x2="143.5" y2="649.5"/><line x1="143.5" y1="649.5" x2="152.5" y2="649.5"/><line x1="152.5" y1="649.5" x2="162.5" y2="649.5"/><line x1="162.5" y1="649.5" x2="171.5" y2="649.5"/><line x1="171.5" y1="649.5" x2="180.5" y2="649.5"/><line x1="180.5" y1="649.5" x2="190.5" y2="650.5"/><line x1="190.5" y1="650.5" x2="199.5" y2="650.5"/><line x1="199.5" y1="650.5" x2="209.5" y2="651.5"/><line x1="209.5" y1="651.5" x2="218.5" y2="652.5"/><line x1="218.5" y1="652.5" x2="227.5" y2="652.5"/><line x1="227.5" y1="652.5" x2="237.5" y2="653.5"/><line x1="237.5" y1="653.5" x2="246.5" y2="653.5"/><line x1="246.5" y1="653.5" x2="255.5" y2="652.5"/><line x1="255.5" y1="652.5" x2="265.5" y2="652.5"/><line x1="265.5" y1="652.5" x2="274.5" y2="652.5"/><line x1="274.5" y1="652.5" x2="283.5" y2="652.5"/><line x1="283.5" y1="652.5" x2="293.5" y2="651.5"/><line x1="293.5" y1="651.5" x2="302.5" y2="650.5"/><line x1="302.5" y1="650.5" x2="312.5" y2="650.5"/><line x1="312.5" y1="650.5" x2="321.5" y2="649.5"/><line x1="321.5" y1="649.5" x2="330.5" y2="648.5"/><line x1="330.5" y1="648.5" x2="340.5" y2="647.5"/><line x1="340.5" y1="647.5" x2="349.5" y2="646.5"/><line x1="349.5" y1="646.5" x2="358.5" y2="646.5"/><line x1="358.5" y1="646.5" x2="368.5" y2="645.5"/><line x1="368.5" y1="645.5" x2="377.5" y2="645.5"/><line x1="377.5" y1="645.5" x2="387.5" y2="644.5"/><line x1="387.5" y1="644.5" x2="396.5" y2="645.5"/><line x1="396.5" y1="645.5" x2="405.5" y2="646.5"/><line x1="405.5" y1="646.5" x2="415.5" y2="647.5"/><line x1="415.5" y1="647.5" x2="424.5" y2="650.5"/><line x1="424.5" y1="650.5" x2="433.5" y2="652.5"/><line x1="433.5" y1="652.5" x2="443.5" y2="656.5"/><line x1="443.5" y1="656.5" x2="452.5" y2="659.5"/><line x1="452.5" y1="659.5" x2="462.5" y2="663.5"/><line x1="462.5" y1="663.5" x2="471.5" y2="667.5"/><line x1="471.5" y1="667.5" x2="480.5" y2="670.5"/><line x1="480.5" y1="670.5" x2="490.5" y2="674.5"/><line x1="490.5" y1="674.5" x2="499.5" y2="677.5"/><line x1="499.5" y1="677.5" x2="508.5" y2="679.5"/><line x1="508.5" y1="679.5" x2="518.5" y2="681.5"/><line x1="518.5" y1="681.5" x2="527.5" y2="683.5"/><line x1="527.5" y1="683.5" x2="537.5" y2="684.5"/><line x1="537.5" y1="684.5" x2="546.5" y2="685.5"/><line x1="546.5" y1="685.5" x2="555.5" y2="685.5"/><line x1="555.5" y1="685.5" x2="565.5" y2="686.5"/><line x1="565.5" y1="686.5" x2="574.5" y2="686.5"/><line x1="574.5" y1="686.5" x2="583.5" y2="687.5"/><line x1="583.5" y1="687.5" x2="593.5" y2="687.5"/><line x1="593.5" y1="687.5" x2="602.5" y2="687.5"/><line x1="602.5" y1="687.5" x2="611.5" y2="686.5"/><line x1="611.5" y1="686.5" x2="621.5" y2="685.5"/><line x1="621.5" y1="685.5" x2="630.5" y2="684.5"/><line x1="630.5" y1="684.5" x2="640.5" y2="683.5"/><line x1="640.5" y1="683.5" x2="649.5" y2="681.5"/><line x1="649.5" y1="681.5" x2="658.5" y2="680.5"/><line x1="658.5" y1="680.5" x2="668.5" y2="678.5"/><line x1="668.5" y1="678.5" x2="677.5" y2="677.5"/><line x1="677.5" y1="677.5" x2="686.5" y2="676.5"/><line x1="686.5" y1="676.5" x2="696.5" y2="675.5"/><line x1="696.5" y1="675.5" x2="705.5" y2="674.5"/><line x1="705.5" y1="674.5" x2="715.5" y2="673.5"/><line x1="715.5" y1="673.5" x2="724.5" y2="672.5"/><line x1="724.5" y1="672.5" x2="733.5" y2="670.5"/><line x1="733.5" y1="670.5" x2="743.5" y2="669.5"/><line x1="743.5" y1="669.5" x2="752.5" y2="667.5"/><line x1="752.5" y1="667.5" x2="761.5" y2="665.5"/><line x1="761.5" y1="665.5" x2="771.5" y2="664.5"/><line x1="771.5" y1="664.5" x2="780.5" y2="663.5"/><line x1="780.5" y1="663.5" x2="790.5" y2="661.5"/><line x1="790.5" y1="661.5" x2="799.5" y2="660.5"/><line x1="799.5" y1="660.5" x2="808.5" y2="659.5"/><line x1="808.5" y1="659.5" x2="818.5" y2="658.5"/><line x1="818.5" y1="658.5" x2="827.5" y2="656.5"/><line x1="827.5" y1="656.5" x2="836.5" y2="654.5"/><line x1="836.5" y1="654.5" x2="846.5" y2="653.5"/><line x1="846.5" y1="653.5" x2="855.5" y2="652.5"/><line x1="855.5" y1="652.5" x2="865.5" y2="651.5"/><line x1="865.5" y1="651.5" x2="874.5" y2="650.5"/><line x1="874.5" y1="650.5" x2="883.5" y2="650.5"/><line x1="883.5" y1="650.5" x2="893.5" y2="650.5"/><line x1="893.5" y1="650.5" x2="902.5" y2="650.5"/><line x1="902.5" y1="650.5" x2="911.5" y2="651.5"/><line x1="911.5" y1="651.5" x2="921.5" y2="652.5"/><line x1="921.5" y1="652.5" x2="930.5" y2="653.5"/><line x1="930.5" y1="653.5" x2="939.5" y2="653.5"/><line x1="939.5" y1="653.5" x2="949.5" y2="653.5"/><line x1="949.5" y1="653.5" x2="958.5" y2="652.5"/><line x1="958.5" y1="652.5" x2="968.5" y2="651.5"/><line x1="968.5" y1="651.5" x2="977.5" y2="650.5"/><line x1="977.5" y1="650.5" x2="986.5" y2="648.5"/><line x1="986.5" y1="648.5" x2="996.5" y2="645.5"/><line x1="996.5" y1="645.5" x2="1005.5" y2="642.5"/><line x1="1005.5" y1="642.5" x2="1014.5" y2="640.5"/><line x1="1014.5" y1="640.5" x2="1024.5" y2="636.5"/><line x1="1024.5" y1="636.5" x2="1033.5" y2="632.5"/><line x1="1033.5" y1="632.5" x2="1043.5" y2="628.5"/><line x1="1043.5" y1="628.5" x2="1052.5" y2="623.5"/><line x1="1052.5" y1="623.5" x2="1061.5" y2="618.5"/><line x1="1061.5" y1="618.5" x2="1071.5" y2="613.5"/><line x1="1071.5" y1="613.5" x2="1080.5" y2="609.5"/><line x1="1080.5" y1="609.5" x2="1089.5" y2="606.5"/><line x1="1089.5" y1="606.5" x2="1099.5" y2="603.5"/><line x1="1099.5" y1="603.5" x2="1108.5" y2="600.5"/><line x1="1108.5" y1="600.5" x2="1118.5" y2="597.5"/><line x1="1118.5" y1="597.5" x2="1127.5" y2="595.5"/><line x1="1127.5" y1="595.5" x2="1136.5" y2="594.5"/><line x1="1136.5" y1="594.5" x2="1146.5" y2="593.5"/><line x1="1146.5" y1="593.5" x2="1155.5" y2="594.5"/><line x1="1155.5" y1="594.5" x2="1164.5" y2="594.5"/><line x1="1164.5" y1="594.5" x2="1174.5" y2="595.5"/><line x1="1174.5" y1="595.5" x2="1183.5" y2="594.5"/><line x1="1183.5" y1="594.5" x2="1193.5" y2="594.5"/><line x1="1193.5" y1="594.5" x2="1202.5" y2="593.5"/><line x1="1202.5" y1="593.5" x2="1211.5" y2="592.5"/><line x1="1211.5" y1="592.5" x2="1221.5" y2="590.5"/><line x1="1221.5" y1="590.5" x2="1230.5" y2="587.5"/><line x1="1230.5" y1="587.5" x2="1239.5" y2="583.5"/><line x1="1239.5" y1="583.5" x2="1249.5" y2="576.5"/><line x1="1249.5" y1="576.5" x2="1258.5" y2="570.5"/><line x1="1258.5" y1="570.5" x2="1267.5" y2="565.5"/><line x1="1267.5" y1="565.5" x2="1277.5" y2="561.5"/><line x1="1277.5" y1="561.5" x2="1286.5" y2="557.5"/><line x1="1286.5" y1="557.5" x2="1296.5" y2="553.5"/><line x1="1296.5" y1="553.5" x2="1305.5" y2="549.5"/><line x1="1305.5" y1="549.5" x2="1314.5" y2="544.5"/><line x1="1314.5" y1="544.5" x2="1324.5" y2="540.5"/><line x1="1324.5" y1="540.5" x2="1333.5" y2="535.5"/><line x1="1333.5" y1="535.5" x2="1342.5" y2="532.5"/><line x1="1342.5" y1="532.5" x2="1352.5" y2="528.5"/><line x1="1352.5" y1="528.5" x2="1361.5" y2="525.5"/><line x1="1361.5" y1="525.5" x2="1371.5" y2="522.5"/><line x1="1371.5" y1="522.5" x2="1380.5" y2="518.5"/><line x1="1380.5" y1="518.5" x2="1389.5" y2="518.5"/><line x1="1389.5" y1="518.5" x2="1399.5" y2="518.5"/><line x1="1399.5" y1="518.5" x2="1408.5" y2="519.5"/><line x1="1408.5" y1="519.5" x2="1417.5" y2="522.5"/><line x1="1417.5" y1="522.5" x2="1427.5" y2="525.5"/><line x1="1427.5" y1="525.5" x2="1436.5" y2="531.5"/><line x1="1436.5" y1="531.5" x2="1446.5" y2="534.5"/><line x1="1446.5" y1="534.5" x2="1455.5" y2="537.5"/><line x1="1455.5" y1="537.5" x2="1464.5" y2="541.5"/><line x1="1464.5" y1="541.5" x2="1474.5" y2="544.5"/><line x1="1474.5" y1="544.5" x2="1483.5" y2="546.5"/><line x1="1483.5" y1="546.5" x2="1492.5" y2="546.5"/><line x1="1492.5" y1="546.5" x2="1502.5" y2="546.5"/><line x1="1502.5" y1="546.5" x2="1511.5" y2="545.5"/><line x1="1511.5" y1="545.5" x2="1521.5" y2="543.5"/><line x1="1521.5" y1="543.5" x2="1530.5" y2="542.5"/><line x1="1530.5" y1="542.5" x2="1539.5" y2="542.5"/><line x1="1539.5" y1="542.5" x2="1549.5" y2="541.5"/><line x1="1549.5" y1="541.5" x2="1558.5" y2="540.5"/><line x1="1558.5" y1="540.5" x2="1567.5" y2="539.5"/></g>
<g stroke="#0000ff" stroke-opacity="0.68" stroke-width="1" stroke-linecap="round"><line x1="12.5" y1="643.5" x2="21.5" y2="643.5"/><line x1="21.5" y1="643.5" x2="30.5" y2="643.5"/><line x1="30.5" y1="643.5" x2="40.5" y2="645.5"/><line x1="40.5" y1="645.5" x2="49.5" y2="645.5"/><line x1="49.5" y1="645.5" x2="59.5" y2="645.5"/><line x1="59.5" y1="645.5" x2="68.5" y2="649.5"/><line x1="68.5" y1="649.5" x2="77.5" y2="651.5"/><line x1="77.5" y1="651.5" x2="87.5" y2="650.5"/><line x1="87.5" y1="650.5" x2="96.5" y2="649.5"/><line x1="96.5" y1="649.5" x2="105.5" y2="649.5"/><line x1="105.5" y1="649.5" x2="115.5" y2="648.5"/><line x1="115.5" y1="648.5" x2="124.5" y2="647.5"/><line x1="124.5" y1="647.5" x2="134.5" y2="647.5"/><line x1="134.5" y1="647.5" x2="143.5" y2="648.5"/><line x1="143.5" y1="648.5" x2="152.5" y2="650.5"/><line x1="152.5" y1="650.5" x2="162.5" y2="651.5"/><line x1="162.5" y1="651.5" x2="171.5" y2="652.5"/><line x1="171.5" y1="652.5" x2="180.5" y2="652.5"/><line x1="180.5" y1="652.5" x2="190.5" y2="652.5"/><line x1="190.5" y1="652.5" x2="199.5" y2="653.5"/><line x1="199.5" y1="653.5" x2="209.5" y2="651.5"/><line x1="209.5" y1="651.5" x2="218.5" y2="653.5"/><line x1="218.5" y1="653.5" x2="227.5" y2="653.5"/><line x1="227.5" y1="653.5" x2="237.5" y2="653.5"/><line x1="237.5" y1="653.5" x2="246.5" y2="653.5"/><line x1="246.5" y1="653.5" x2="255.5" y2="652.5"/><line x1="255.5" y1="652.5" x2="265.5" y2="651.5"/><line x1="265.5" y1="651.5" x2="274.5" y2="650.5"/><line x1="274.5" y1="650.5" x2="283.5" y2="648.5"/><line x1="283.5" y1="648.5" x2="293.5" y2="646.5"/><line x1="293.5" y1="646.5" x2="302.5" y2="647.5"/><line x1="302.5" y1="647.5" x2="312.5" y2="647.5"/><line x1="312.5" y1="647.5" x2="321.5" y2="645.5"/><line x1="321.5" y1="645.5" x2="330.5" y2="645.5"/><line x1="330.5" y1="645.5" x2="340.5" y2="644.5"/><line x1="340.5" y1="644.5" x2="349.5" y2="643.5"/><line x1="349.5" y1="643.5" x2="358.5" y2="643.5"/><line x1="358.5" y1="643.5" x2="368.5" y2="642.5"/><line x1="368.5" y1="642.5" x2="377.5" y2="644.5"/><line x1="377.5" y1="644.5" x2="387.5" y2="645.5"/><line x1="387.5" y1="645.5" x2="396.5" y2="648.5"/><line x1="396.5" y1="648.5" x2="405.5" y2="655.5"/><line x1="405.5" y1="655.5" x2="415.5" y2="661.5"/><line x1="415.5" y1="661.5" x2="424.5" y2="664.5"/><line x1="424.5" y1="664.5" x2="433.5" y2="668.5"/><line x1="433.5" y1="668.5" x2="443.5" y2="672.5"/><line x1="443.5" y1="672.5" x2="452.5" y2="675.5"/><line x1="452.5" y1="675.5" x2="462.5" y2="677.5"/><line x1="462.5" y1="677.5" x2="471.5" y2="679.5"/><line x1="471.5" y1="679.5" x2="480.5" y2="683.5"/><line x1="480.5" y1="683.5" x2="490.5" y2="685.5"/><line x1="490.5" y1="685.5" x2="499.5" y2="687.5"/><line x1="499.5" y1="687.5" x2="508.5" y2="687.5"/><line x1="508.5" y1="687.5" x2="518.5" y2="687.5"/><line x1="518.5" y1="687.5" x2="527.5" y2="684.5"/><line x1="527.5" y1="684.5" x2="537.5" y2="684.5"/><line x1="537.5" y1="684.5" x2="546.5" y2="685.5"/><line x1="546.5" y1="685.5" x2="555.5" y2="686.5"/><line x1="555.5" y1="686.5" x2="565.5" y2="687.5"/><line x1="565.5" y1="687.5" x2="574.5" y2="689.5"/><line x1="574.5" y1="689.5" x2="583.5" y2="689.5"/><line x1="583.5" y1="689.5" x2="593.5" y2="689.5"/><line x1="593.5" y1="689.5" x2="602.5" y2="684.5"/><line x1="602.5" y1="684.5" x2="611.5" y2="681.5"/><line x1="611.5" y1="681.5" x2="621.5" y2="676.5"/><line x1="621.5" y1="676.5" x2="630.5" y2="675.5"/><line x1="630.5" y1="675.5" x2="640.5" y2="674.5"/><line x1="640.5" y1="674.5" x2="649.5" y2="674.5"/><line x1="649.5" y1="674.5" x2="658.5" y2="675.5"/><line x1="658.5" y1="675.5" x2="668.5" y2="678.5"/><line x1="668.5" y1="678.5" x2="677.5" y2="678.5"/><line x1="677.5" y1="678.5" x2="686.5" y2="674.5"/><line x1="686.5" y1="674.5" x2="696.5" y2="670.5"/><line x1="696.5" y1="670.5" x2="705.5" y2="667.5"/><line x1="705.5" y1="667.5" x2="715.5" y2="664.5"/><line x1="715.5" y1="664.5" x2="724.5" y2="663.5"/><line x1="724.5" y1="663.5" x2="733.5" y2="663.5"/><line x1="733.5" y1="663.5" x2="743.5" y2="663.5"/><line x1="743.5" y1="663.5" x2="752.5" y2="662.5"/><line x1="752.5" y1="662.5" x2="761.5" y2="661.5"/><line x1="761.5" y1="661.5" x2="771.5" y2="659.5"/><line x1="771.5" y1="659.5" x2="780.5" y2="659.5"/><line x1="780.5" y1="659.5" x2="790.5" y2="657.5"/><line x1="790.5" y1="657.5" x2="799.5" y2="655.5"/><line x1="799.5" y1="655.5" x2="808.5" y2="652.5"/><line x1="808.5" y1="652.5" x2="818.5" y2="649.5"/><line x1="818.5" y1="649.5" x2="827.5" y2="648.5"/><line x1="827.5" y1="648.5" x2="836.5" y2="649.5"/><line x1="836.5" y1="649.5" x2="846.5" y2="648.5"/><line x1="846.5" y1="648.5" x2="855.5" y2="648.5"/><line x1="855.5" y1="648.5" x2="865.5" y2="650.5"/><line x1="865.5" y1="650.5" x2="874.5" y2="651.5"/><line x1="874.5" y1="651.5" x2="883.5" y2="652.5"/><line x1="883.5" y1="652.5" x2="893.5" y2="652.5"/><line x1="893.5" y1="652.5" x2="902.5" y2="654.5"/><line x1="902.5" y1="654.5" x2="911.5" y2="656.5"/><line x1="911.5" y1="656.5" x2="921.5" y2="655.5"/><line x1="921.5" y1="655.5" x2="930.5" y2="654.5"/><line x1="930.5" y1="654.5" x2="939.5" y2="653.5"/><line x1="939.5" y1="653.5" x2="949.5" y2="649.5"/><line x1="949.5" y1="649.5" x2="958.5" y2="645.5"/><line x1="958.5" y1="645.5" x2="968.5" y2="643.5"/><line x1="968.5" y1="643.5" x2="977.5" y2="642.5"/><line x1="977.5" y1="642.5" x2="986.5" y2="639.5"/><line x1="986.5" y1="639.5" x2="996.5" y2="634.5"/><line x1="996.5" y1="634.5" x2="1005.5" y2="629.5"/><line x1="1005.5" y1="629.5" x2="1014.5" y2="625.5"/><line x1="1014.5" y1="625.5" x2="1024.5" y2="622.5"/><line x1="1024.5" y1="622.5" x2="1033.5" y2="613.5"/><line x1="1033.5" y1="613.5" x2="1043.5" y2="602.5"/><line x1="1043.5" y1="602.5" x2="1052.5" y2="598.5"/><line x1="1052.5" y1="598.5" x2="1061.5" y2="597.5"/><line x1="1061.5" y1="597.5" x2="1071.5" y2="597.5"/><line x1="1071.5" y1="597.5" x2="1080.5" y2="597.5"/><line x1="1080.5" y1="597.5" x2="1089.5" y2="600.5"/><line x1="1089.5" y1="600.5" x2="1099.5" y2="604.5"/><line x1="1099.5" y1="604.5" x2="1108.5" y2="592.5"/><line x1="1108.5" y1="592.5" x2="1118.5" y2="586.5"/><line x1="1118.5" y1="586.5" x2="1127.5" y2="584.5"/><line x1="1127.5" y1="584.5" x2="1136.5" y2="587.5"/><line x1="1136.5" y1="587.5" x2="1146.5" y2="592.5"/><line x1="1146.5" y1="592.5" x2="1155.5" y2="598.5"/><line x1="1155.5" y1="598.5" x2="1164.5" y2="604.5"/><line x1="1164.5" y1="604.5" x2="1174.5" y2="604.5"/><line x1="1174.5" y1="604.5" x2="1183.5" y2="598.5"/><line x1="1183.5" y1="598.5" x2="1193.5" y2="588.5"/><line x1="1193.5" y1="588.5" x2="1202.5" y2="581.5"/><line x1="1202.5" y1="581.5" x2="1211.5" y2="575.5"/><line x1="1211.5" y1="575.5" x2="1221.5" y2="570.5"/><line x1="1221.5" y1="570.5" x2="1230.5" y2="566.5"/><line x1="1230.5" y1="566.5" x2="1239.5" y2="558.5"/><line x1="1239.5" y1="558.5" x2="1249.5" y2="552.5"/><line x1="1249.5" y1="552.5" x2="1258.5" y2="547.5"/><line x1="1258.5" y1="547.5" x2="1267.5" y2="547.5"/><line x1="1267.5" y1="547.5" x2="1277.5" y2="546.5"/><line x1="1277.5" y1="546.5" x2="1286.5" y2="545.5"/><line x1="1286.5" y1="545.5" x2="1296.5" y2="542.5"/><line x1="1296.5" y1="542.5" x2="1305.5" y2="533.5"/><line x1="1305.5" y1="533.5" x2="1314.5" y2="529.5"/><line x1="1314.5" y1="529.5" x2="1324.5" y2="522.5"/><line x1="1324.5" y1="522.5" x2="1333.5" y2="513.5"/><line x1="1333.5" y1="513.5" x2="1342.5" y2="508.5"/><line x1="1342.5" y1="508.5" x2="1352.5" y2="511.5"/><line x1="1352.5" y1="511.5" x2="1361.5" y2="517.5"/><line x1="1361.5" y1="517.5" x2="1371.5" y2="516.5"/><line x1="1371.5" y1="516.5" x2="1380.5" y2="518.5"/><line x1="1380.5" y1="518.5" x2="1389.5" y2="521.5"/><line x1="1389.5" y1="521.5" x2="1399.5" y2="528.5"/><line x1="1399.5" y1="528.5" x2="1408.5" y2="535.5"/><line x1="1408.5" y1="535.5" x2="1417.5" y2="542.5"/><line x1="1417.5" y1="542.5" x2="1427.5" y2="549.5"/><line x1="1427.5" y1="549.5" x2="1436.5" y2="554.5"/><line x1="1436.5" y1="554.5" x2="1446.5" y2="545.5"/><line x1="1446.5" y1="545.5" x2="1455.5" y2="544.5"/><line x1="1455.5" y1="544.5" x2="1464.5" y2="545.5"/><line x1="1464.5" y1="545.5" x2="1474.5" y2="548.5"/><line x1="1474.5" y1="548.5" x2="1483.5" y2="547.5"/><line x1="1483.5" y1="547.5" x2="1492.5" y2="543.5"/><line x1="1492.5" y1="543.5" x2="1502.5" y2="540.5"/><line x1="1502.5" y1="540.5" x2="1511.5" y2="541.5"/><line x1="1511.5" y1="541.5" x2="1521.5" y2="537.5"/><line x1="1521.5" y1="537.5" x2="1530.5" y2="536.5"/><line x1="1530.5" y1="536.5" x2="1539.5" y2="538.5"/><line x1="1539.5" y1="538.5" x2="1549.5" y2="539.5"/><line x1="1549.5" y1="539.5" x2="1558.5" y2="539.5"/><line x1="1558.5" y1="539.5" x2="1567.5" y2="537.5"/></g>
</g>
<g clip-path="url(#cm)">
<line x1="931" y1="445.9" x2="1483.2" y2="84.6" stroke="#0000ff" stroke-width="2.2" stroke-linecap="round"/>
<line x1="1061.9" y1="471.3" x2="1623.9" y2="84.6" stroke="#0000ff" stroke-width="2.2" stroke-linecap="round"/>
<g stroke="#8800ff" stroke-opacity="0.62" stroke-width="1" stroke-linecap="round"><line x1="12.5" y1="348.5" x2="21.5" y2="348.5"/><line x1="21.5" y1="348.5" x2="30.5" y2="348.5"/><line x1="30.5" y1="348.5" x2="40.5" y2="348.5"/><line x1="40.5" y1="348.5" x2="49.5" y2="348.5"/><line x1="49.5" y1="348.5" x2="59.5" y2="349.5"/><line x1="59.5" y1="349.5" x2="68.5" y2="350.5"/><line x1="68.5" y1="350.5" x2="77.5" y2="350.5"/><line x1="77.5" y1="350.5" x2="87.5" y2="351.5"/><line x1="87.5" y1="351.5" x2="96.5" y2="351.5"/><line x1="96.5" y1="351.5" x2="105.5" y2="351.5"/><line x1="105.5" y1="351.5" x2="115.5" y2="351.5"/><line x1="115.5" y1="351.5" x2="124.5" y2="351.5"/><line x1="124.5" y1="351.5" x2="134.5" y2="351.5"/><line x1="134.5" y1="351.5" x2="143.5" y2="352.5"/><line x1="143.5" y1="352.5" x2="152.5" y2="353.5"/><line x1="152.5" y1="353.5" x2="162.5" y2="353.5"/><line x1="162.5" y1="353.5" x2="171.5" y2="354.5"/><line x1="171.5" y1="354.5" x2="180.5" y2="354.5"/><line x1="180.5" y1="354.5" x2="190.5" y2="355.5"/><line x1="190.5" y1="355.5" x2="199.5" y2="356.5"/><line x1="199.5" y1="356.5" x2="209.5" y2="356.5"/><line x1="209.5" y1="356.5" x2="218.5" y2="356.5"/><line x1="218.5" y1="356.5" x2="227.5" y2="357.5"/><line x1="227.5" y1="357.5" x2="237.5" y2="357.5"/><line x1="237.5" y1="357.5" x2="246.5" y2="358.5"/><line x1="246.5" y1="358.5" x2="255.5" y2="358.5"/><line x1="255.5" y1="358.5" x2="265.5" y2="359.5"/><line x1="265.5" y1="359.5" x2="274.5" y2="359.5"/><line x1="274.5" y1="359.5" x2="283.5" y2="359.5"/><line x1="283.5" y1="359.5" x2="293.5" y2="359.5"/><line x1="293.5" y1="359.5" x2="302.5" y2="360.5"/><line x1="302.5" y1="360.5" x2="312.5" y2="360.5"/><line x1="312.5" y1="360.5" x2="321.5" y2="360.5"/><line x1="321.5" y1="360.5" x2="330.5" y2="360.5"/><line x1="330.5" y1="360.5" x2="340.5" y2="360.5"/><line x1="340.5" y1="360.5" x2="349.5" y2="360.5"/><line x1="349.5" y1="360.5" x2="358.5" y2="360.5"/><line x1="358.5" y1="360.5" x2="368.5" y2="360.5"/><line x1="368.5" y1="360.5" x2="377.5" y2="361.5"/><line x1="377.5" y1="361.5" x2="387.5" y2="361.5"/><line x1="387.5" y1="361.5" x2="396.5" y2="362.5"/><line x1="396.5" y1="362.5" x2="405.5" y2="364.5"/><line x1="405.5" y1="364.5" x2="415.5" y2="366.5"/><line x1="415.5" y1="366.5" x2="424.5" y2="367.5"/><line x1="424.5" y1="367.5" x2="433.5" y2="369.5"/><line x1="433.5" y1="369.5" x2="443.5" y2="371.5"/><line x1="443.5" y1="371.5" x2="452.5" y2="373.5"/><line x1="452.5" y1="373.5" x2="462.5" y2="375.5"/><line x1="462.5" y1="375.5" x2="471.5" y2="377.5"/><line x1="471.5" y1="377.5" x2="480.5" y2="379.5"/><line x1="480.5" y1="379.5" x2="490.5" y2="382.5"/><line x1="490.5" y1="382.5" x2="499.5" y2="384.5"/><line x1="499.5" y1="384.5" x2="508.5" y2="386.5"/><line x1="508.5" y1="386.5" x2="518.5" y2="388.5"/><line x1="518.5" y1="388.5" x2="527.5" y2="389.5"/><line x1="527.5" y1="389.5" x2="537.5" y2="391.5"/><line x1="537.5" y1="391.5" x2="546.5" y2="393.5"/><line x1="546.5" y1="393.5" x2="555.5" y2="395.5"/><line x1="555.5" y1="395.5" x2="565.5" y2="397.5"/><line x1="565.5" y1="397.5" x2="574.5" y2="399.5"/><line x1="574.5" y1="399.5" x2="583.5" y2="402.5"/><line x1="583.5" y1="402.5" x2="593.5" y2="404.5"/><line x1="593.5" y1="404.5" x2="602.5" y2="406.5"/><line x1="602.5" y1="406.5" x2="611.5" y2="407.5"/><line x1="611.5" y1="407.5" x2="621.5" y2="408.5"/><line x1="621.5" y1="408.5" x2="630.5" y2="409.5"/><line x1="630.5" y1="409.5" x2="640.5" y2="410.5"/><line x1="640.5" y1="410.5" x2="649.5" y2="412.5"/><line x1="649.5" y1="412.5" x2="658.5" y2="414.5"/><line x1="658.5" y1="414.5" x2="668.5" y2="416.5"/><line x1="668.5" y1="416.5" x2="677.5" y2="418.5"/><line x1="677.5" y1="418.5" x2="686.5" y2="419.5"/><line x1="686.5" y1="419.5" x2="696.5" y2="420.5"/><line x1="696.5" y1="420.5" x2="705.5" y2="421.5"/><line x1="705.5" y1="421.5" x2="715.5" y2="422.5"/><line x1="715.5" y1="422.5" x2="724.5" y2="423.5"/><line x1="724.5" y1="423.5" x2="733.5" y2="424.5"/><line x1="733.5" y1="424.5" x2="743.5" y2="425.5"/><line x1="743.5" y1="425.5" x2="752.5" y2="426.5"/><line x1="752.5" y1="426.5" x2="761.5" y2="427.5"/><line x1="761.5" y1="427.5" x2="771.5" y2="428.5"/><line x1="771.5" y1="428.5" x2="780.5" y2="428.5"/><line x1="780.5" y1="428.5" x2="790.5" y2="429.5"/><line x1="790.5" y1="429.5" x2="799.5" y2="429.5"/><line x1="799.5" y1="429.5" x2="808.5" y2="430.5"/><line x1="808.5" y1="430.5" x2="818.5" y2="430.5"/><line x1="818.5" y1="430.5" x2="827.5" y2="431.5"/><line x1="827.5" y1="431.5" x2="836.5" y2="431.5"/><line x1="836.5" y1="431.5" x2="846.5" y2="432.5"/><line x1="846.5" y1="432.5" x2="855.5" y2="432.5"/><line x1="855.5" y1="432.5" x2="865.5" y2="433.5"/><line x1="865.5" y1="433.5" x2="874.5" y2="434.5"/><line x1="874.5" y1="434.5" x2="883.5" y2="435.5"/><line x1="883.5" y1="435.5" x2="893.5" y2="436.5"/><line x1="893.5" y1="436.5" x2="902.5" y2="437.5"/><line x1="902.5" y1="437.5" x2="911.5" y2="438.5"/><line x1="911.5" y1="438.5" x2="921.5" y2="439.5"/><line x1="921.5" y1="439.5" x2="930.5" y2="439.5"/><line x1="930.5" y1="439.5" x2="939.5" y2="440.5"/><line x1="939.5" y1="440.5" x2="949.5" y2="439.5"/><line x1="949.5" y1="439.5" x2="958.5" y2="439.5"/><line x1="958.5" y1="439.5" x2="968.5" y2="439.5"/><line x1="968.5" y1="439.5" x2="977.5" y2="439.5"/><line x1="977.5" y1="439.5" x2="986.5" y2="438.5"/><line x1="986.5" y1="438.5" x2="996.5" y2="438.5"/><line x1="996.5" y1="438.5" x2="1005.5" y2="437.5"/><line x1="1005.5" y1="437.5" x2="1014.5" y2="436.5"/><line x1="1014.5" y1="436.5" x2="1024.5" y2="434.5"/><line x1="1024.5" y1="434.5" x2="1033.5" y2="432.5"/><line x1="1033.5" y1="432.5" x2="1043.5" y2="429.5"/><line x1="1043.5" y1="429.5" x2="1052.5" y2="426.5"/><line x1="1052.5" y1="426.5" x2="1061.5" y2="424.5"/><line x1="1061.5" y1="424.5" x2="1071.5" y2="423.5"/><line x1="1071.5" y1="423.5" x2="1080.5" y2="421.5"/><line x1="1080.5" y1="421.5" x2="1089.5" y2="420.5"/><line x1="1089.5" y1="420.5" x2="1099.5" y2="420.5"/><line x1="1099.5" y1="420.5" x2="1108.5" y2="416.5"/><line x1="1108.5" y1="416.5" x2="1118.5" y2="412.5"/><line x1="1118.5" y1="412.5" x2="1127.5" y2="410.5"/><line x1="1127.5" y1="410.5" x2="1136.5" y2="408.5"/><line x1="1136.5" y1="408.5" x2="1146.5" y2="407.5"/><line x1="1146.5" y1="407.5" x2="1155.5" y2="405.5"/><line x1="1155.5" y1="405.5" x2="1164.5" y2="406.5"/><line x1="1164.5" y1="406.5" x2="1174.5" y2="404.5"/><line x1="1174.5" y1="404.5" x2="1183.5" y2="401.5"/><line x1="1183.5" y1="401.5" x2="1193.5" y2="397.5"/><line x1="1193.5" y1="397.5" x2="1202.5" y2="393.5"/><line x1="1202.5" y1="393.5" x2="1211.5" y2="390.5"/><line x1="1211.5" y1="390.5" x2="1221.5" y2="386.5"/><line x1="1221.5" y1="386.5" x2="1230.5" y2="382.5"/><line x1="1230.5" y1="382.5" x2="1239.5" y2="377.5"/><line x1="1239.5" y1="377.5" x2="1249.5" y2="372.5"/><line x1="1249.5" y1="372.5" x2="1258.5" y2="368.5"/><line x1="1258.5" y1="368.5" x2="1267.5" y2="365.5"/><line x1="1267.5" y1="365.5" x2="1277.5" y2="360.5"/><line x1="1277.5" y1="360.5" x2="1286.5" y2="355.5"/><line x1="1286.5" y1="355.5" x2="1296.5" y2="350.5"/><line x1="1296.5" y1="350.5" x2="1305.5" y2="344.5"/><line x1="1305.5" y1="344.5" x2="1314.5" y2="338.5"/><line x1="1314.5" y1="338.5" x2="1324.5" y2="332.5"/><line x1="1324.5" y1="332.5" x2="1333.5" y2="325.5"/><line x1="1333.5" y1="325.5" x2="1342.5" y2="319.5"/><line x1="1342.5" y1="319.5" x2="1352.5" y2="313.5"/><line x1="1352.5" y1="313.5" x2="1361.5" y2="309.5"/><line x1="1361.5" y1="309.5" x2="1371.5" y2="303.5"/><line x1="1371.5" y1="303.5" x2="1380.5" y2="298.5"/><line x1="1380.5" y1="298.5" x2="1389.5" y2="293.5"/><line x1="1389.5" y1="293.5" x2="1399.5" y2="288.5"/><line x1="1399.5" y1="288.5" x2="1408.5" y2="285.5"/><line x1="1408.5" y1="285.5" x2="1417.5" y2="282.5"/><line x1="1417.5" y1="282.5" x2="1427.5" y2="278.5"/><line x1="1427.5" y1="278.5" x2="1436.5" y2="275.5"/><line x1="1436.5" y1="275.5" x2="1446.5" y2="269.5"/><line x1="1446.5" y1="269.5" x2="1455.5" y2="264.5"/><line x1="1455.5" y1="264.5" x2="1464.5" y2="260.5"/><line x1="1464.5" y1="260.5" x2="1474.5" y2="256.5"/><line x1="1474.5" y1="256.5" x2="1483.5" y2="251.5"/><line x1="1483.5" y1="251.5" x2="1492.5" y2="246.5"/><line x1="1492.5" y1="246.5" x2="1502.5" y2="241.5"/><line x1="1502.5" y1="241.5" x2="1511.5" y2="236.5"/><line x1="1511.5" y1="236.5" x2="1521.5" y2="230.5"/><line x1="1521.5" y1="230.5" x2="1530.5" y2="225.5"/><line x1="1530.5" y1="225.5" x2="1539.5" y2="220.5"/><line x1="1539.5" y1="220.5" x2="1549.5" y2="216.5"/><line x1="1549.5" y1="216.5" x2="1558.5" y2="210.5"/><line x1="1558.5" y1="210.5" x2="1567.5" y2="205.5"/></g>
<g stroke="#0000ff" stroke-opacity="0.72" stroke-width="1" stroke-linecap="round"><line x1="1118.5" y1="383.5" x2="1127.5" y2="383.5"/><line x1="1127.5" y1="383.5" x2="1136.5" y2="383.5"/><line x1="1136.5" y1="383.5" x2="1146.5" y2="383.5"/><line x1="1146.5" y1="383.5" x2="1155.5" y2="383.5"/><line x1="1155.5" y1="383.5" x2="1164.5" y2="383.5"/><line x1="1164.5" y1="383.5" x2="1174.5" y2="383.5"/><line x1="1174.5" y1="383.5" x2="1183.5" y2="383.5"/><line x1="1183.5" y1="383.5" x2="1193.5" y2="382.5"/><line x1="1193.5" y1="382.5" x2="1202.5" y2="382.5"/><line x1="1202.5" y1="382.5" x2="1211.5" y2="382.5"/><line x1="1211.5" y1="382.5" x2="1221.5" y2="382.5"/><line x1="1221.5" y1="382.5" x2="1230.5" y2="381.5"/><line x1="1230.5" y1="381.5" x2="1239.5" y2="381.5"/><line x1="1239.5" y1="381.5" x2="1249.5" y2="381.5"/><line x1="1249.5" y1="381.5" x2="1258.5" y2="381.5"/><line x1="1258.5" y1="381.5" x2="1267.5" y2="380.5"/><line x1="1267.5" y1="380.5" x2="1277.5" y2="380.5"/><line x1="1277.5" y1="380.5" x2="1286.5" y2="379.5"/><line x1="1286.5" y1="379.5" x2="1296.5" y2="379.5"/><line x1="1296.5" y1="379.5" x2="1305.5" y2="378.5"/><line x1="1305.5" y1="378.5" x2="1314.5" y2="378.5"/><line x1="1314.5" y1="378.5" x2="1324.5" y2="377.5"/><line x1="1324.5" y1="377.5" x2="1333.5" y2="376.5"/><line x1="1333.5" y1="376.5" x2="1342.5" y2="376.5"/><line x1="1342.5" y1="376.5" x2="1352.5" y2="375.5"/><line x1="1352.5" y1="375.5" x2="1361.5" y2="374.5"/><line x1="1361.5" y1="374.5" x2="1371.5" y2="373.5"/><line x1="1371.5" y1="373.5" x2="1380.5" y2="373.5"/><line x1="1380.5" y1="373.5" x2="1389.5" y2="372.5"/><line x1="1389.5" y1="372.5" x2="1399.5" y2="371.5"/><line x1="1399.5" y1="371.5" x2="1408.5" y2="370.5"/><line x1="1408.5" y1="370.5" x2="1417.5" y2="370.5"/><line x1="1417.5" y1="370.5" x2="1427.5" y2="369.5"/><line x1="1427.5" y1="369.5" x2="1436.5" y2="368.5"/><line x1="1436.5" y1="368.5" x2="1446.5" y2="367.5"/><line x1="1446.5" y1="367.5" x2="1455.5" y2="366.5"/><line x1="1455.5" y1="366.5" x2="1464.5" y2="366.5"/><line x1="1464.5" y1="366.5" x2="1474.5" y2="365.5"/><line x1="1474.5" y1="365.5" x2="1483.5" y2="364.5"/><line x1="1483.5" y1="364.5" x2="1492.5" y2="363.5"/><line x1="1492.5" y1="363.5" x2="1502.5" y2="362.5"/><line x1="1502.5" y1="362.5" x2="1511.5" y2="361.5"/><line x1="1511.5" y1="361.5" x2="1521.5" y2="360.5"/><line x1="1521.5" y1="360.5" x2="1530.5" y2="359.5"/><line x1="1530.5" y1="359.5" x2="1539.5" y2="358.5"/><line x1="1539.5" y1="358.5" x2="1549.5" y2="356.5"/><line x1="1549.5" y1="356.5" x2="1558.5" y2="355.5"/><line x1="1558.5" y1="355.5" x2="1567.5" y2="354.5"/></g>
<g shape-rendering="crispEdges">
<rect x="13" y="350" width="1" height="6" fill="#5a5a5a"/>
<rect x="10" y="353" width="7" height="2" fill="#4f0000"/>
<rect x="22" y="349" width="1" height="6" fill="#5a5a5a"/>
<rect x="19" y="350" width="7" height="5" fill="#1f4f2f"/>
<rect x="20" y="351" width="5" height="3" fill="#00dd00"/>
<rect x="31" y="345" width="1" height="30" fill="#5a5a5a"/>
<rect x="28" y="350" width="7" height="2" fill="#4f0000"/>
<rect x="41" y="349" width="1" height="8" fill="#5a5a5a"/>
<rect x="38" y="351" width="7" height="6" fill="#4f0000"/>
<rect x="39" y="352" width="5" height="4" fill="#ff0000"/>
<rect x="50" y="349" width="1" height="8" fill="#5a5a5a"/>
<rect x="47" y="353" width="7" height="4" fill="#1f4f2f"/>
<rect x="48" y="354" width="5" height="2" fill="#00dd00"/>
<rect x="57" y="353" width="7" height="1" fill="#4f0000"/>
<rect x="58" y="353" width="5" height="1" fill="#ff0000"/>
<rect x="60" y="353" width="1" height="3" fill="#5a5a5a"/>
<rect x="69" y="349" width="1" height="26" fill="#5a5a5a"/>
<rect x="66" y="353" width="7" height="18" fill="#4f0000"/>
<rect x="67" y="354" width="5" height="16" fill="#ff0000"/>
<rect x="78" y="360" width="1" height="11" fill="#5a5a5a"/>
<rect x="75" y="364" width="7" height="7" fill="#1f4f2f"/>
<rect x="76" y="365" width="5" height="5" fill="#00dd00"/>
<rect x="88" y="356" width="1" height="12" fill="#5a5a5a"/>
<rect x="85" y="357" width="7" height="8" fill="#1f4f2f"/>
<rect x="86" y="358" width="5" height="6" fill="#00dd00"/>
<rect x="97" y="351" width="1" height="9" fill="#5a5a5a"/>
<rect x="94" y="353" width="7" height="5" fill="#1f4f2f"/>
<rect x="95" y="354" width="5" height="3" fill="#00dd00"/>
<rect x="106" y="345" width="1" height="12" fill="#5a5a5a"/>
<rect x="103" y="353" width="7" height="4" fill="#4f0000"/>
<rect x="104" y="354" width="5" height="2" fill="#ff0000"/>
<rect x="113" y="356" width="7" height="1" fill="#1f4f2f"/>
<rect x="114" y="356" width="5" height="1" fill="#00dd00"/>
<rect x="116" y="352" width="1" height="5" fill="#5a5a5a"/>
<rect x="125" y="356" width="1" height="4" fill="#5a5a5a"/>
<rect x="122" y="356" width="7" height="2" fill="#4f0000"/>
<rect x="135" y="353" width="1" height="5" fill="#5a5a5a"/>
<rect x="132" y="353" width="7" height="5" fill="#1f4f2f"/>
<rect x="133" y="354" width="5" height="3" fill="#00dd00"/>
<rect x="144" y="353" width="1" height="12" fill="#5a5a5a"/>
<rect x="141" y="353" width="7" height="12" fill="#4f0000"/>
<rect x="142" y="354" width="5" height="10" fill="#ff0000"/>
<rect x="153" y="364" width="1" height="4" fill="#5a5a5a"/>
<rect x="150" y="364" width="7" height="4" fill="#4f0000"/>
<rect x="151" y="365" width="5" height="2" fill="#ff0000"/>
<rect x="163" y="365" width="1" height="4" fill="#5a5a5a"/>
<rect x="160" y="367" width="7" height="2" fill="#4f0000"/>
<rect x="172" y="364" width="1" height="6" fill="#5a5a5a"/>
<rect x="169" y="366" width="7" height="4" fill="#1f4f2f"/>
<rect x="170" y="367" width="5" height="2" fill="#00dd00"/>
<rect x="178" y="366" width="7" height="1" fill="#1f4f2f"/>
<rect x="179" y="366" width="5" height="1" fill="#00dd00"/>
<rect x="181" y="366" width="1" height="5" fill="#5a5a5a"/>
<rect x="191" y="364" width="1" height="6" fill="#5a5a5a"/>
<rect x="188" y="365" width="7" height="2" fill="#1f4f2f"/>
<rect x="200" y="365" width="1" height="5" fill="#5a5a5a"/>
<rect x="197" y="365" width="7" height="5" fill="#4f0000"/>
<rect x="198" y="366" width="5" height="3" fill="#ff0000"/>
<rect x="207" y="364" width="7" height="1" fill="#1f4f2f"/>
<rect x="208" y="364" width="5" height="1" fill="#00dd00"/>
<rect x="210" y="364" width="1" height="5" fill="#5a5a5a"/>
<rect x="219" y="364" width="1" height="6" fill="#5a5a5a"/>
<rect x="216" y="364" width="7" height="6" fill="#4f0000"/>
<rect x="217" y="365" width="5" height="4" fill="#ff0000"/>
<rect x="228" y="364" width="1" height="9" fill="#5a5a5a"/>
<rect x="225" y="365" width="7" height="5" fill="#1f4f2f"/>
<rect x="226" y="366" width="5" height="3" fill="#00dd00"/>
<rect x="235" y="371" width="7" height="1" fill="#4f0000"/>
<rect x="236" y="371" width="5" height="1" fill="#ff0000"/>
<rect x="238" y="367" width="1" height="11" fill="#5a5a5a"/>
<rect x="244" y="371" width="7" height="1" fill="#1f4f2f"/>
<rect x="245" y="371" width="5" height="1" fill="#00dd00"/>
<rect x="247" y="362" width="1" height="10" fill="#5a5a5a"/>
<rect x="256" y="364" width="1" height="8" fill="#5a5a5a"/>
<rect x="253" y="364" width="7" height="8" fill="#1f4f2f"/>
<rect x="254" y="365" width="5" height="6" fill="#00dd00"/>
<rect x="266" y="364" width="1" height="11" fill="#5a5a5a"/>
<rect x="263" y="364" width="7" height="4" fill="#4f0000"/>
<rect x="264" y="365" width="5" height="2" fill="#ff0000"/>
<rect x="275" y="358" width="1" height="10" fill="#5a5a5a"/>
<rect x="272" y="364" width="7" height="4" fill="#1f4f2f"/>
<rect x="273" y="365" width="5" height="2" fill="#00dd00"/>
<rect x="284" y="358" width="1" height="9" fill="#5a5a5a"/>
<rect x="281" y="360" width="7" height="5" fill="#1f4f2f"/>
<rect x="282" y="361" width="5" height="3" fill="#00dd00"/>
<rect x="291" y="360" width="7" height="1" fill="#4f0000"/>
<rect x="292" y="360" width="5" height="1" fill="#ff0000"/>
<rect x="294" y="360" width="1" height="7" fill="#5a5a5a"/>
<rect x="303" y="356" width="1" height="15" fill="#5a5a5a"/>
<rect x="300" y="360" width="7" height="11" fill="#4f0000"/>
<rect x="301" y="361" width="5" height="9" fill="#ff0000"/>
<rect x="313" y="365" width="1" height="6" fill="#5a5a5a"/>
<rect x="310" y="365" width="7" height="6" fill="#1f4f2f"/>
<rect x="311" y="366" width="5" height="4" fill="#00dd00"/>
<rect x="322" y="360" width="1" height="9" fill="#5a5a5a"/>
<rect x="319" y="360" width="7" height="6" fill="#1f4f2f"/>
<rect x="320" y="361" width="5" height="4" fill="#00dd00"/>
<rect x="331" y="360" width="1" height="8" fill="#5a5a5a"/>
<rect x="328" y="360" width="7" height="8" fill="#4f0000"/>
<rect x="329" y="361" width="5" height="6" fill="#ff0000"/>
<rect x="341" y="362" width="1" height="6" fill="#5a5a5a"/>
<rect x="338" y="362" width="7" height="6" fill="#1f4f2f"/>
<rect x="339" y="363" width="5" height="4" fill="#00dd00"/>
<rect x="350" y="360" width="1" height="11" fill="#5a5a5a"/>
<rect x="347" y="360" width="7" height="6" fill="#1f4f2f"/>
<rect x="348" y="361" width="5" height="4" fill="#00dd00"/>
<rect x="359" y="360" width="1" height="7" fill="#5a5a5a"/>
<rect x="356" y="360" width="7" height="6" fill="#4f0000"/>
<rect x="357" y="361" width="5" height="4" fill="#ff0000"/>
<rect x="369" y="360" width="1" height="9" fill="#5a5a5a"/>
<rect x="366" y="360" width="7" height="6" fill="#1f4f2f"/>
<rect x="367" y="361" width="5" height="4" fill="#00dd00"/>
<rect x="378" y="362" width="1" height="10" fill="#5a5a5a"/>
<rect x="375" y="364" width="7" height="8" fill="#4f0000"/>
<rect x="376" y="365" width="5" height="6" fill="#ff0000"/>
<rect x="385" y="371" width="7" height="1" fill="#4f0000"/>
<rect x="386" y="371" width="5" height="1" fill="#ff0000"/>
<rect x="388" y="361" width="1" height="12" fill="#5a5a5a"/>
<rect x="397" y="371" width="1" height="12" fill="#5a5a5a"/>
<rect x="394" y="371" width="7" height="10" fill="#4f0000"/>
<rect x="395" y="372" width="5" height="8" fill="#ff0000"/>
<rect x="406" y="380" width="1" height="23" fill="#5a5a5a"/>
<rect x="403" y="383" width="7" height="20" fill="#4f0000"/>
<rect x="404" y="384" width="5" height="18" fill="#ff0000"/>
<rect x="416" y="399" width="1" height="5" fill="#5a5a5a"/>
<rect x="413" y="402" width="7" height="2" fill="#4f0000"/>
<rect x="425" y="398" width="1" height="6" fill="#5a5a5a"/>
<rect x="422" y="398" width="7" height="6" fill="#1f4f2f"/>
<rect x="423" y="399" width="5" height="4" fill="#00dd00"/>
<rect x="434" y="398" width="1" height="7" fill="#5a5a5a"/>
<rect x="431" y="398" width="7" height="7" fill="#4f0000"/>
<rect x="432" y="399" width="5" height="5" fill="#ff0000"/>
<rect x="444" y="402" width="1" height="13" fill="#5a5a5a"/>
<rect x="441" y="404" width="7" height="6" fill="#4f0000"/>
<rect x="442" y="405" width="5" height="4" fill="#ff0000"/>
<rect x="453" y="406" width="1" height="9" fill="#5a5a5a"/>
<rect x="450" y="409" width="7" height="4" fill="#4f0000"/>
<rect x="451" y="410" width="5" height="2" fill="#ff0000"/>
<rect x="463" y="411" width="1" height="4" fill="#5a5a5a"/>
<rect x="460" y="412" width="7" height="2" fill="#4f0000"/>
<rect x="472" y="411" width="1" height="7" fill="#5a5a5a"/>
<rect x="469" y="413" width="7" height="4" fill="#4f0000"/>
<rect x="470" y="414" width="5" height="2" fill="#ff0000"/>
<rect x="481" y="416" width="1" height="14" fill="#5a5a5a"/>
<rect x="478" y="416" width="7" height="12" fill="#4f0000"/>
<rect x="479" y="417" width="5" height="10" fill="#ff0000"/>
<rect x="491" y="426" width="1" height="4" fill="#5a5a5a"/>
<rect x="488" y="426" width="7" height="2" fill="#1f4f2f"/>
<rect x="500" y="426" width="1" height="5" fill="#5a5a5a"/>
<rect x="497" y="426" width="7" height="4" fill="#4f0000"/>
<rect x="498" y="427" width="5" height="2" fill="#ff0000"/>
<rect x="509" y="426" width="1" height="4" fill="#5a5a5a"/>
<rect x="506" y="426" width="7" height="4" fill="#1f4f2f"/>
<rect x="507" y="427" width="5" height="2" fill="#00dd00"/>
<rect x="516" y="426" width="7" height="1" fill="#1f4f2f"/>
<rect x="517" y="426" width="5" height="1" fill="#00dd00"/>
<rect x="519" y="426" width="1" height="4" fill="#5a5a5a"/>
<rect x="528" y="419" width="1" height="8" fill="#5a5a5a"/>
<rect x="525" y="419" width="7" height="8" fill="#1f4f2f"/>
<rect x="526" y="420" width="5" height="6" fill="#00dd00"/>
<rect x="538" y="419" width="1" height="10" fill="#5a5a5a"/>
<rect x="535" y="419" width="7" height="10" fill="#4f0000"/>
<rect x="536" y="420" width="5" height="8" fill="#ff0000"/>
<rect x="547" y="428" width="1" height="9" fill="#5a5a5a"/>
<rect x="544" y="428" width="7" height="7" fill="#4f0000"/>
<rect x="545" y="429" width="5" height="5" fill="#ff0000"/>
<rect x="556" y="430" width="1" height="11" fill="#5a5a5a"/>
<rect x="553" y="434" width="7" height="7" fill="#4f0000"/>
<rect x="554" y="435" width="5" height="5" fill="#ff0000"/>
<rect x="566" y="437" width="1" height="7" fill="#5a5a5a"/>
<rect x="563" y="440" width="7" height="2" fill="#4f0000"/>
<rect x="575" y="444" width="1" height="5" fill="#5a5a5a"/>
<rect x="572" y="444" width="7" height="5" fill="#4f0000"/>
<rect x="573" y="445" width="5" height="3" fill="#ff0000"/>
<rect x="584" y="442" width="1" height="7" fill="#5a5a5a"/>
<rect x="581" y="447" width="7" height="2" fill="#1f4f2f"/>
<rect x="591" y="447" width="7" height="1" fill="#1f4f2f"/>
<rect x="592" y="447" width="5" height="1" fill="#00dd00"/>
<rect x="594" y="445" width="1" height="3" fill="#5a5a5a"/>
<rect x="603" y="433" width="1" height="15" fill="#5a5a5a"/>
<rect x="600" y="433" width="7" height="15" fill="#1f4f2f"/>
<rect x="601" y="434" width="5" height="13" fill="#00dd00"/>
<rect x="612" y="430" width="1" height="4" fill="#5a5a5a"/>
<rect x="609" y="430" width="7" height="4" fill="#1f4f2f"/>
<rect x="610" y="431" width="5" height="2" fill="#00dd00"/>
<rect x="619" y="430" width="7" height="1" fill="#1f4f2f"/>
<rect x="620" y="430" width="5" height="1" fill="#00dd00"/>
<rect x="622" y="430" width="1" height="1" fill="#5a5a5a"/>
<rect x="631" y="430" width="1" height="7" fill="#5a5a5a"/>
<rect x="628" y="430" width="7" height="4" fill="#4f0000"/>
<rect x="629" y="431" width="5" height="2" fill="#ff0000"/>
<rect x="641" y="432" width="1" height="9" fill="#5a5a5a"/>
<rect x="638" y="433" width="7" height="8" fill="#4f0000"/>
<rect x="639" y="434" width="5" height="6" fill="#ff0000"/>
<rect x="650" y="431" width="1" height="18" fill="#5a5a5a"/>
<rect x="647" y="440" width="7" height="9" fill="#4f0000"/>
<rect x="648" y="441" width="5" height="7" fill="#ff0000"/>
<rect x="656" y="448" width="7" height="1" fill="#1f4f2f"/>
<rect x="657" y="448" width="5" height="1" fill="#00dd00"/>
<rect x="659" y="444" width="1" height="11" fill="#5a5a5a"/>
<rect x="669" y="448" width="1" height="17" fill="#5a5a5a"/>
<rect x="666" y="448" width="7" height="17" fill="#4f0000"/>
<rect x="667" y="449" width="5" height="15" fill="#ff0000"/>
<rect x="678" y="452" width="1" height="13" fill="#5a5a5a"/>
<rect x="675" y="452" width="7" height="13" fill="#1f4f2f"/>
<rect x="676" y="453" width="5" height="11" fill="#00dd00"/>
<rect x="687" y="437" width="1" height="16" fill="#5a5a5a"/>
<rect x="684" y="441" width="7" height="12" fill="#1f4f2f"/>
<rect x="685" y="442" width="5" height="10" fill="#00dd00"/>
<rect x="697" y="437" width="1" height="11" fill="#5a5a5a"/>
<rect x="694" y="437" width="7" height="5" fill="#1f4f2f"/>
<rect x="695" y="438" width="5" height="3" fill="#00dd00"/>
<rect x="706" y="430" width="1" height="11" fill="#5a5a5a"/>
<rect x="703" y="437" width="7" height="3" fill="#4f0000"/>
<rect x="704" y="438" width="5" height="1" fill="#ff0000"/>
<rect x="716" y="433" width="1" height="10" fill="#5a5a5a"/>
<rect x="713" y="437" width="7" height="3" fill="#1f4f2f"/>
<rect x="714" y="438" width="5" height="1" fill="#00dd00"/>
<rect x="725" y="435" width="1" height="12" fill="#5a5a5a"/>
<rect x="722" y="437" width="7" height="9" fill="#4f0000"/>
<rect x="723" y="438" width="5" height="7" fill="#ff0000"/>
<rect x="734" y="437" width="1" height="12" fill="#5a5a5a"/>
<rect x="731" y="445" width="7" height="4" fill="#4f0000"/>
<rect x="732" y="446" width="5" height="2" fill="#ff0000"/>
<rect x="741" y="448" width="7" height="1" fill="#1f4f2f"/>
<rect x="742" y="448" width="5" height="1" fill="#00dd00"/>
<rect x="744" y="448" width="1" height="6" fill="#5a5a5a"/>
<rect x="750" y="448" width="7" height="1" fill="#1f4f2f"/>
<rect x="751" y="448" width="5" height="1" fill="#00dd00"/>
<rect x="753" y="438" width="1" height="11" fill="#5a5a5a"/>
<rect x="762" y="437" width="1" height="12" fill="#5a5a5a"/>
<rect x="759" y="447" width="7" height="2" fill="#1f4f2f"/>
<rect x="772" y="433" width="1" height="15" fill="#5a5a5a"/>
<rect x="769" y="442" width="7" height="6" fill="#1f4f2f"/>
<rect x="770" y="443" width="5" height="4" fill="#00dd00"/>
<rect x="781" y="437" width="1" height="18" fill="#5a5a5a"/>
<rect x="778" y="442" width="7" height="8" fill="#4f0000"/>
<rect x="779" y="443" width="5" height="6" fill="#ff0000"/>
<rect x="791" y="437" width="1" height="13" fill="#5a5a5a"/>
<rect x="788" y="444" width="7" height="6" fill="#1f4f2f"/>
<rect x="789" y="445" width="5" height="4" fill="#00dd00"/>
<rect x="800" y="437" width="1" height="8" fill="#5a5a5a"/>
<rect x="797" y="438" width="7" height="7" fill="#1f4f2f"/>
<rect x="798" y="439" width="5" height="5" fill="#00dd00"/>
<rect x="809" y="431" width="1" height="8" fill="#5a5a5a"/>
<rect x="806" y="436" width="7" height="3" fill="#1f4f2f"/>
<rect x="807" y="437" width="5" height="1" fill="#00dd00"/>
<rect x="816" y="436" width="7" height="1" fill="#1f4f2f"/>
<rect x="817" y="436" width="5" height="1" fill="#00dd00"/>
<rect x="819" y="425" width="1" height="14" fill="#5a5a5a"/>
<rect x="828" y="430" width="1" height="11" fill="#5a5a5a"/>
<rect x="825" y="436" width="7" height="5" fill="#4f0000"/>
<rect x="826" y="437" width="5" height="3" fill="#ff0000"/>
<rect x="837" y="439" width="1" height="9" fill="#5a5a5a"/>
<rect x="834" y="440" width="7" height="6" fill="#4f0000"/>
<rect x="835" y="441" width="5" height="4" fill="#ff0000"/>
<rect x="847" y="441" width="1" height="5" fill="#5a5a5a"/>
<rect x="844" y="442" width="7" height="4" fill="#1f4f2f"/>
<rect x="845" y="443" width="5" height="2" fill="#00dd00"/>
<rect x="856" y="442" width="1" height="6" fill="#5a5a5a"/>
<rect x="853" y="442" width="7" height="4" fill="#4f0000"/>
<rect x="854" y="443" width="5" height="2" fill="#ff0000"/>
<rect x="866" y="445" width="1" height="10" fill="#5a5a5a"/>
<rect x="863" y="445" width="7" height="9" fill="#4f0000"/>
<rect x="864" y="446" width="5" height="7" fill="#ff0000"/>
<rect x="875" y="448" width="1" height="6" fill="#5a5a5a"/>
<rect x="872" y="451" width="7" height="3" fill="#1f4f2f"/>
<rect x="873" y="452" width="5" height="1" fill="#00dd00"/>
<rect x="884" y="448" width="1" height="5" fill="#5a5a5a"/>
<rect x="881" y="451" width="7" height="2" fill="#4f0000"/>
<rect x="891" y="452" width="7" height="1" fill="#1f4f2f"/>
<rect x="892" y="452" width="5" height="1" fill="#00dd00"/>
<rect x="894" y="452" width="1" height="5" fill="#5a5a5a"/>
<rect x="903" y="452" width="1" height="8" fill="#5a5a5a"/>
<rect x="900" y="452" width="7" height="8" fill="#4f0000"/>
<rect x="901" y="453" width="5" height="6" fill="#ff0000"/>
<rect x="912" y="459" width="1" height="3" fill="#5a5a5a"/>
<rect x="909" y="459" width="7" height="2" fill="#4f0000"/>
<rect x="922" y="452" width="1" height="10" fill="#5a5a5a"/>
<rect x="919" y="453" width="7" height="8" fill="#1f4f2f"/>
<rect x="920" y="454" width="5" height="6" fill="#00dd00"/>
<rect x="931" y="452" width="1" height="2" fill="#5a5a5a"/>
<rect x="928" y="452" width="7" height="2" fill="#1f4f2f"/>
<rect x="940" y="448" width="1" height="5" fill="#5a5a5a"/>
<rect x="937" y="448" width="7" height="5" fill="#1f4f2f"/>
<rect x="938" y="449" width="5" height="3" fill="#00dd00"/>
<rect x="947" y="437" width="7" height="1" fill="#1f4f2f"/>
<rect x="948" y="437" width="5" height="1" fill="#00dd00"/>
<rect x="950" y="430" width="1" height="11" fill="#5a5a5a"/>
<rect x="956" y="437" width="7" height="1" fill="#1f4f2f"/>
<rect x="957" y="437" width="5" height="1" fill="#00dd00"/>
<rect x="959" y="433" width="1" height="10" fill="#5a5a5a"/>
<rect x="969" y="437" width="1" height="3" fill="#5a5a5a"/>
<rect x="966" y="437" width="7" height="3" fill="#4f0000"/>
<rect x="967" y="438" width="5" height="1" fill="#ff0000"/>
<rect x="978" y="439" width="1" height="11" fill="#5a5a5a"/>
<rect x="975" y="439" width="7" height="2" fill="#4f0000"/>
<rect x="987" y="433" width="1" height="8" fill="#5a5a5a"/>
<rect x="984" y="434" width="7" height="7" fill="#1f4f2f"/>
<rect x="985" y="435" width="5" height="5" fill="#00dd00"/>
<rect x="997" y="416" width="1" height="19" fill="#5a5a5a"/>
<rect x="994" y="420" width="7" height="15" fill="#1f4f2f"/>
<rect x="995" y="421" width="5" height="13" fill="#00dd00"/>
<rect x="1006" y="411" width="1" height="10" fill="#5a5a5a"/>
<rect x="1003" y="415" width="7" height="6" fill="#1f4f2f"/>
<rect x="1004" y="416" width="5" height="4" fill="#00dd00"/>
<rect x="1015" y="411" width="1" height="5" fill="#5a5a5a"/>
<rect x="1012" y="413" width="7" height="3" fill="#1f4f2f"/>
<rect x="1013" y="414" width="5" height="1" fill="#00dd00"/>
<rect x="1022" y="413" width="7" height="1" fill="#1f4f2f"/>
<rect x="1023" y="413" width="5" height="1" fill="#00dd00"/>
<rect x="1025" y="411" width="1" height="4" fill="#5a5a5a"/>
<rect x="1034" y="386" width="1" height="26" fill="#5a5a5a"/>
<rect x="1031" y="387" width="7" height="25" fill="#1f4f2f"/>
<rect x="1032" y="388" width="5" height="23" fill="#00dd00"/>
<rect x="1044" y="358" width="1" height="30" fill="#5a5a5a"/>
<rect x="1041" y="363" width="7" height="25" fill="#1f4f2f"/>
<rect x="1042" y="364" width="5" height="23" fill="#00dd00"/>
<rect x="1053" y="364" width="1" height="25" fill="#5a5a5a"/>
<rect x="1050" y="364" width="7" height="23" fill="#4f0000"/>
<rect x="1051" y="365" width="5" height="21" fill="#ff0000"/>
<rect x="1062" y="378" width="1" height="15" fill="#5a5a5a"/>
<rect x="1059" y="386" width="7" height="3" fill="#4f0000"/>
<rect x="1060" y="387" width="5" height="1" fill="#ff0000"/>
<rect x="1072" y="386" width="1" height="14" fill="#5a5a5a"/>
<rect x="1069" y="388" width="7" height="6" fill="#4f0000"/>
<rect x="1070" y="389" width="5" height="4" fill="#ff0000"/>
<rect x="1078" y="393" width="7" height="1" fill="#1f4f2f"/>
<rect x="1079" y="393" width="5" height="1" fill="#00dd00"/>
<rect x="1081" y="390" width="1" height="9" fill="#5a5a5a"/>
<rect x="1090" y="386" width="1" height="13" fill="#5a5a5a"/>
<rect x="1087" y="393" width="7" height="6" fill="#4f0000"/>
<rect x="1088" y="394" width="5" height="4" fill="#ff0000"/>
<rect x="1100" y="397" width="1" height="18" fill="#5a5a5a"/>
<rect x="1097" y="398" width="7" height="10" fill="#4f0000"/>
<rect x="1098" y="399" width="5" height="8" fill="#ff0000"/>
<rect x="1109" y="334" width="1" height="74" fill="#5a5a5a"/>
<rect x="1106" y="339" width="7" height="69" fill="#1f4f2f"/>
<rect x="1107" y="340" width="5" height="67" fill="#00dd00"/>
<rect x="1119" y="314" width="1" height="38" fill="#5a5a5a"/>
<rect x="1116" y="327" width="7" height="25" fill="#4f0000"/>
<rect x="1117" y="328" width="5" height="23" fill="#ff0000"/>
<rect x="1128" y="351" width="1" height="24" fill="#5a5a5a"/>
<rect x="1125" y="351" width="7" height="11" fill="#4f0000"/>
<rect x="1126" y="352" width="5" height="9" fill="#ff0000"/>
<rect x="1137" y="360" width="1" height="20" fill="#5a5a5a"/>
<rect x="1134" y="361" width="7" height="15" fill="#4f0000"/>
<rect x="1135" y="362" width="5" height="13" fill="#ff0000"/>
<rect x="1147" y="375" width="1" height="25" fill="#5a5a5a"/>
<rect x="1144" y="375" width="7" height="17" fill="#4f0000"/>
<rect x="1145" y="376" width="5" height="15" fill="#ff0000"/>
<rect x="1156" y="389" width="1" height="8" fill="#5a5a5a"/>
<rect x="1153" y="391" width="7" height="3" fill="#4f0000"/>
<rect x="1154" y="392" width="5" height="1" fill="#ff0000"/>
<rect x="1165" y="382" width="1" height="15" fill="#5a5a5a"/>
<rect x="1162" y="391" width="7" height="3" fill="#1f4f2f"/>
<rect x="1163" y="392" width="5" height="1" fill="#00dd00"/>
<rect x="1175" y="367" width="1" height="25" fill="#5a5a5a"/>
<rect x="1172" y="375" width="7" height="17" fill="#1f4f2f"/>
<rect x="1173" y="376" width="5" height="15" fill="#00dd00"/>
<rect x="1184" y="337" width="1" height="39" fill="#5a5a5a"/>
<rect x="1181" y="347" width="7" height="29" fill="#1f4f2f"/>
<rect x="1182" y="348" width="5" height="27" fill="#00dd00"/>
<rect x="1194" y="316" width="1" height="32" fill="#5a5a5a"/>
<rect x="1191" y="318" width="7" height="30" fill="#1f4f2f"/>
<rect x="1192" y="319" width="5" height="28" fill="#00dd00"/>
<rect x="1203" y="318" width="1" height="19" fill="#5a5a5a"/>
<rect x="1200" y="318" width="7" height="8" fill="#4f0000"/>
<rect x="1201" y="319" width="5" height="6" fill="#ff0000"/>
<rect x="1212" y="310" width="1" height="17" fill="#5a5a5a"/>
<rect x="1209" y="316" width="7" height="10" fill="#1f4f2f"/>
<rect x="1210" y="317" width="5" height="8" fill="#00dd00"/>
<rect x="1222" y="308" width="1" height="8" fill="#5a5a5a"/>
<rect x="1219" y="312" width="7" height="4" fill="#4f0000"/>
<rect x="1220" y="313" width="5" height="2" fill="#ff0000"/>
<rect x="1231" y="303" width="1" height="13" fill="#5a5a5a"/>
<rect x="1228" y="306" width="7" height="10" fill="#1f4f2f"/>
<rect x="1229" y="307" width="5" height="8" fill="#00dd00"/>
<rect x="1240" y="272" width="1" height="35" fill="#5a5a5a"/>
<rect x="1237" y="283" width="7" height="24" fill="#1f4f2f"/>
<rect x="1238" y="284" width="5" height="22" fill="#00dd00"/>
<rect x="1250" y="264" width="1" height="37" fill="#5a5a5a"/>
<rect x="1247" y="281" width="7" height="3" fill="#1f4f2f"/>
<rect x="1248" y="282" width="5" height="1" fill="#00dd00"/>
<rect x="1259" y="256" width="1" height="43" fill="#5a5a5a"/>
<rect x="1256" y="272" width="7" height="6" fill="#1f4f2f"/>
<rect x="1257" y="273" width="5" height="4" fill="#00dd00"/>
<rect x="1268" y="264" width="1" height="26" fill="#5a5a5a"/>
<rect x="1265" y="272" width="7" height="15" fill="#4f0000"/>
<rect x="1266" y="273" width="5" height="13" fill="#ff0000"/>
<rect x="1278" y="275" width="1" height="15" fill="#5a5a5a"/>
<rect x="1275" y="281" width="7" height="6" fill="#1f4f2f"/>
<rect x="1276" y="282" width="5" height="4" fill="#00dd00"/>
<rect x="1287" y="265" width="1" height="19" fill="#5a5a5a"/>
<rect x="1284" y="276" width="7" height="8" fill="#1f4f2f"/>
<rect x="1285" y="277" width="5" height="6" fill="#00dd00"/>
<rect x="1297" y="250" width="1" height="26" fill="#5a5a5a"/>
<rect x="1294" y="252" width="7" height="24" fill="#1f4f2f"/>
<rect x="1295" y="253" width="5" height="22" fill="#00dd00"/>
<rect x="1306" y="218" width="1" height="33" fill="#5a5a5a"/>
<rect x="1303" y="227" width="7" height="24" fill="#1f4f2f"/>
<rect x="1304" y="228" width="5" height="22" fill="#00dd00"/>
<rect x="1315" y="214" width="1" height="30" fill="#5a5a5a"/>
<rect x="1312" y="227" width="7" height="3" fill="#4f0000"/>
<rect x="1313" y="228" width="5" height="1" fill="#ff0000"/>
<rect x="1325" y="214" width="1" height="16" fill="#5a5a5a"/>
<rect x="1322" y="214" width="7" height="16" fill="#1f4f2f"/>
<rect x="1323" y="215" width="5" height="14" fill="#00dd00"/>
<rect x="1334" y="159" width="1" height="56" fill="#5a5a5a"/>
<rect x="1331" y="186" width="7" height="29" fill="#1f4f2f"/>
<rect x="1332" y="187" width="5" height="27" fill="#00dd00"/>
<rect x="1343" y="173" width="1" height="22" fill="#5a5a5a"/>
<rect x="1340" y="186" width="7" height="6" fill="#4f0000"/>
<rect x="1341" y="187" width="5" height="4" fill="#ff0000"/>
<rect x="1353" y="191" width="1" height="37" fill="#5a5a5a"/>
<rect x="1350" y="191" width="7" height="23" fill="#4f0000"/>
<rect x="1351" y="192" width="5" height="21" fill="#ff0000"/>
<rect x="1362" y="207" width="1" height="32" fill="#5a5a5a"/>
<rect x="1359" y="207" width="7" height="20" fill="#4f0000"/>
<rect x="1360" y="208" width="5" height="18" fill="#ff0000"/>
<rect x="1372" y="184" width="1" height="44" fill="#5a5a5a"/>
<rect x="1369" y="191" width="7" height="36" fill="#1f4f2f"/>
<rect x="1370" y="192" width="5" height="34" fill="#00dd00"/>
<rect x="1381" y="176" width="1" height="24" fill="#5a5a5a"/>
<rect x="1378" y="191" width="7" height="9" fill="#4f0000"/>
<rect x="1379" y="192" width="5" height="7" fill="#ff0000"/>
<rect x="1390" y="187" width="1" height="19" fill="#5a5a5a"/>
<rect x="1387" y="199" width="7" height="2" fill="#4f0000"/>
<rect x="1400" y="200" width="1" height="28" fill="#5a5a5a"/>
<rect x="1397" y="200" width="7" height="14" fill="#4f0000"/>
<rect x="1398" y="201" width="5" height="12" fill="#ff0000"/>
<rect x="1409" y="202" width="1" height="18" fill="#5a5a5a"/>
<rect x="1406" y="211" width="7" height="3" fill="#1f4f2f"/>
<rect x="1407" y="212" width="5" height="1" fill="#00dd00"/>
<rect x="1418" y="196" width="1" height="22" fill="#5a5a5a"/>
<rect x="1415" y="211" width="7" height="6" fill="#4f0000"/>
<rect x="1416" y="212" width="5" height="4" fill="#ff0000"/>
<rect x="1425" y="216" width="7" height="1" fill="#4f0000"/>
<rect x="1426" y="216" width="5" height="1" fill="#ff0000"/>
<rect x="1428" y="210" width="1" height="36" fill="#5a5a5a"/>
<rect x="1437" y="207" width="1" height="10" fill="#5a5a5a"/>
<rect x="1434" y="207" width="7" height="5" fill="#4f0000"/>
<rect x="1435" y="208" width="5" height="3" fill="#ff0000"/>
<rect x="1447" y="151" width="1" height="56" fill="#5a5a5a"/>
<rect x="1444" y="154" width="7" height="53" fill="#1f4f2f"/>
<rect x="1445" y="155" width="5" height="51" fill="#00dd00"/>
<rect x="1456" y="138" width="1" height="35" fill="#5a5a5a"/>
<rect x="1453" y="145" width="7" height="22" fill="#4f0000"/>
<rect x="1454" y="146" width="5" height="20" fill="#ff0000"/>
<rect x="1465" y="155" width="1" height="29" fill="#5a5a5a"/>
<rect x="1462" y="169" width="7" height="8" fill="#4f0000"/>
<rect x="1463" y="170" width="5" height="6" fill="#ff0000"/>
<rect x="1475" y="173" width="1" height="11" fill="#5a5a5a"/>
<rect x="1472" y="176" width="7" height="3" fill="#4f0000"/>
<rect x="1473" y="177" width="5" height="1" fill="#ff0000"/>
<rect x="1484" y="162" width="1" height="28" fill="#5a5a5a"/>
<rect x="1481" y="163" width="7" height="16" fill="#1f4f2f"/>
<rect x="1482" y="164" width="5" height="14" fill="#00dd00"/>
<rect x="1493" y="138" width="1" height="27" fill="#5a5a5a"/>
<rect x="1490" y="140" width="7" height="17" fill="#1f4f2f"/>
<rect x="1491" y="141" width="5" height="15" fill="#00dd00"/>
<rect x="1503" y="118" width="1" height="23" fill="#5a5a5a"/>
<rect x="1500" y="121" width="7" height="19" fill="#4f0000"/>
<rect x="1501" y="122" width="5" height="17" fill="#ff0000"/>
<rect x="1512" y="128" width="1" height="22" fill="#5a5a5a"/>
<rect x="1509" y="139" width="7" height="6" fill="#4f0000"/>
<rect x="1510" y="140" width="5" height="4" fill="#ff0000"/>
<rect x="1522" y="117" width="1" height="26" fill="#5a5a5a"/>
<rect x="1519" y="122" width="7" height="21" fill="#1f4f2f"/>
<rect x="1520" y="123" width="5" height="19" fill="#00dd00"/>
<rect x="1531" y="110" width="1" height="20" fill="#5a5a5a"/>
<rect x="1528" y="122" width="7" height="5" fill="#4f0000"/>
<rect x="1529" y="123" width="5" height="3" fill="#ff0000"/>
<rect x="1540" y="118" width="1" height="14" fill="#5a5a5a"/>
<rect x="1537" y="118" width="7" height="13" fill="#4f0000"/>
<rect x="1538" y="119" width="5" height="11" fill="#ff0000"/>
<rect x="1550" y="112" width="1" height="14" fill="#5a5a5a"/>
<rect x="1547" y="124" width="7" height="2" fill="#1f4f2f"/>
<rect x="1559" y="117" width="1" height="8" fill="#5a5a5a"/>
<rect x="1556" y="118" width="7" height="7" fill="#1f4f2f"/>
<rect x="1557" y="119" width="5" height="5" fill="#00dd00"/>
<rect x="1568" y="101" width="1" height="17" fill="#5a5a5a"/>
<rect x="1565" y="101" width="7" height="17" fill="#1f4f2f"/>
<rect x="1566" y="102" width="5" height="15" fill="#00dd00"/>
</g>
<line x1="7" y1="100.5" x2="1796" y2="100.5" stroke="#00dd00" stroke-width="1" stroke-dasharray="2,1"/>
<circle cx="1559.4" cy="99.3" r="7.5" fill="#0a8cff" stroke="#1a80dc" stroke-width="0.8"/>
<text x="0" y="0" transform="translate(1559.5 102.75) scale(1.2 1)" font-family="'Liberation Sans', Arial, sans-serif" font-weight="bold" font-size="10.2" fill="#fff" text-anchor="middle">P</text>
</g>
<g shape-rendering="crispEdges">
<rect x="6" y="56" width="1839" height="1" fill="#000"/>
<rect x="6" y="56" width="1" height="794" fill="#000"/>
<rect x="1844" y="56" width="1" height="794" fill="#000"/>
<rect x="1796" y="57" width="1" height="776" fill="#555555"/>
<rect x="7" y="486" width="1837" height="1" fill="#555555"/>
<rect x="7" y="701" width="1837" height="1" fill="#555555"/>
<rect x="7" y="832" width="1790" height="1" fill="#555555"/>
<rect x="0" y="854" width="1851" height="2" fill="#000"/>
<rect x="1797" y="484" width="3" height="1" fill="#555555"/>
<rect x="1797" y="447" width="3" height="1" fill="#555555"/>
<rect x="1797" y="410" width="3" height="1" fill="#555555"/>
<rect x="1797" y="374" width="3" height="1" fill="#555555"/>
<rect x="1797" y="337" width="3" height="1" fill="#555555"/>
<rect x="1797" y="300" width="3" height="1" fill="#555555"/>
<rect x="1797" y="263" width="3" height="1" fill="#555555"/>
<rect x="1797" y="227" width="3" height="1" fill="#555555"/>
<rect x="1797" y="190" width="3" height="1" fill="#555555"/>
<rect x="1797" y="153" width="3" height="1" fill="#555555"/>
<rect x="1797" y="116" width="3" height="1" fill="#555555"/>
<rect x="1797" y="80" width="3" height="1" fill="#555555"/>
<rect x="1797" y="535" width="3" height="1" fill="#555555"/>
<rect x="1797" y="588" width="3" height="1" fill="#555555"/>
<rect x="1797" y="641" width="3" height="1" fill="#555555"/>
<rect x="1797" y="693" width="3" height="1" fill="#555555"/>
<rect x="1797" y="728" width="3" height="1" fill="#555555"/>
<rect x="1797" y="760" width="3" height="1" fill="#555555"/>
<rect x="1797" y="792" width="3" height="1" fill="#555555"/>
<rect x="1797" y="824" width="3" height="1" fill="#555555"/>
<rect x="1797" y="100" width="3" height="1" fill="#000"/>
<rect x="78" y="833" width="1" height="3" fill="#555555"/>
<rect x="163" y="833" width="1" height="3" fill="#555555"/>
<rect x="275" y="833" width="1" height="3" fill="#555555"/>
<rect x="359" y="833" width="1" height="3" fill="#555555"/>
<rect x="472" y="833" width="1" height="3" fill="#555555"/>
<rect x="556" y="833" width="1" height="3" fill="#555555"/>
<rect x="678" y="833" width="1" height="3" fill="#555555"/>
<rect x="762" y="833" width="1" height="3" fill="#555555"/>
<rect x="875" y="833" width="1" height="3" fill="#555555"/>
<rect x="959" y="833" width="1" height="3" fill="#555555"/>
<rect x="1053" y="833" width="1" height="3" fill="#555555"/>
<rect x="1137" y="833" width="1" height="3" fill="#555555"/>
<rect x="1250" y="833" width="1" height="3" fill="#555555"/>
<rect x="1334" y="833" width="1" height="3" fill="#555555"/>
<rect x="1447" y="833" width="1" height="3" fill="#555555"/>
<rect x="1531" y="833" width="1" height="3" fill="#555555"/>
<rect x="1643" y="833" width="1" height="3" fill="#555555"/>
<rect x="1728" y="833" width="1" height="3" fill="#555555"/>
</g>
<rect x="1796" y="93" width="38" height="16" fill="#00dd00" shape-rendering="crispEdges"/>
<rect x="1797" y="100" width="3" height="1" fill="#000" shape-rendering="crispEdges"/>
<g font-family="'Liberation Sans', Arial, sans-serif" font-size="11" fill="#555555">
<svg x="1797" y="57" width="47" height="429" overflow="hidden">
<text x="6" y="432">10.00</text>
<text x="6" y="395">11.00</text>
<text x="6" y="358">12.00</text>
<text x="6" y="322">13.00</text>
<text x="6" y="285">14.00</text>
<text x="6" y="248">15.00</text>
<text x="6" y="211">16.00</text>
<text x="6" y="175">17.00</text>
<text x="6" y="138">18.00</text>
<text x="6" y="101">19.00</text>
<text x="6" y="64">20.00</text>
<text x="6" y="28">21.00</text>
</svg>
<text x="1803" y="105" fill="#000">20.45</text>
<text x="1803" y="540">1.0000</text>
<text x="1803" y="593">0.5000</text>
<text x="1803" y="646">0.0000</text>
<text x="1803" y="698">-0.5000</text>
<text x="1803" y="733">300M</text>
<text x="1803" y="765">200M</text>
<text x="1803" y="797">100M</text>
<text x="1803" y="829">0</text>
<text x="78.5" y="847" text-anchor="middle">Jun</text>
<text x="163.5" y="847" text-anchor="middle">14</text>
<text x="275.5" y="847" text-anchor="middle">Jul</text>
<text x="359.5" y="847" text-anchor="middle">14</text>
<text x="472.5" y="847" text-anchor="middle">Aug</text>
<text x="556.5" y="847" text-anchor="middle">12</text>
<text x="678.5" y="847" text-anchor="middle">Sep</text>
<text x="762.5" y="847" text-anchor="middle">14</text>
<text x="875.5" y="847" text-anchor="middle">Oct</text>
<text x="959.5" y="847" text-anchor="middle">17</text>
<text x="1053.5" y="847" text-anchor="middle">Nov</text>
<text x="1137.5" y="847" text-anchor="middle">15</text>
<text x="1250.5" y="847" text-anchor="middle">Dec</text>
<text x="1334.5" y="847" text-anchor="middle">15</text>
<text x="1447.5" y="847" text-anchor="middle" font-weight="bold">2017</text>
<text x="1531.5" y="847" text-anchor="middle">16</text>
<text x="1643.5" y="847" text-anchor="middle">Feb</text>
<text x="1728.5" y="847" text-anchor="middle">14</text>
</g>
<g font-family="'Liberation Sans', Arial, sans-serif" font-size="12" fill="#000">
<text transform="translate(17 77) scale(1.05 1)" textLength="109.7" lengthAdjust="spacing">MA (200, close, 0)</text>
<text transform="translate(17 94) scale(1.05 1)" textLength="111.4" lengthAdjust="spacing">EMA (40, close, 0)</text>
<text transform="translate(17 507) scale(1.05 1)" textLength="143.0" lengthAdjust="spacing">MACD (12, 26, close, 9)</text>
<text transform="translate(17 722) scale(1.05 1)" textLength="100.8" lengthAdjust="spacing">Volume (true, 20)</text>
<text transform="translate(16 22) scale(1.05 1)" textLength="494.3" lengthAdjust="spacing">Published on Investing.com, 20/Jan/2017 - 15:25:35 GMT, Powered by TradingView.</text>
<text x="15.3" y="45" font-weight="bold" textLength="214.3" lengthAdjust="spacingAndGlyphs">Vapores, Chile, Santiago:VAP, D</text>
</g>
<text x="22.2" y="476" font-family="'Liberation Sans', Arial, sans-serif" font-weight="bold" font-size="21.5" textLength="89" lengthAdjust="spacingAndGlyphs" fill="#000" stroke="#000" stroke-width="0.45">Investing</text>
<text x="113" y="476" font-family="'Liberation Sans', Arial, sans-serif" font-size="14.5" textLength="29.5" lengthAdjust="spacingAndGlyphs" fill="#3a3a3a">.com</text>
<rect x="81.2" y="456.5" width="4.6" height="6.4" fill="#fff"/>
<ellipse cx="84.6" cy="461.1" rx="2.6" ry="1.8" transform="rotate(-40 84.6 461.1)" fill="#f7a21b"/>
</svg>
</body></html>
